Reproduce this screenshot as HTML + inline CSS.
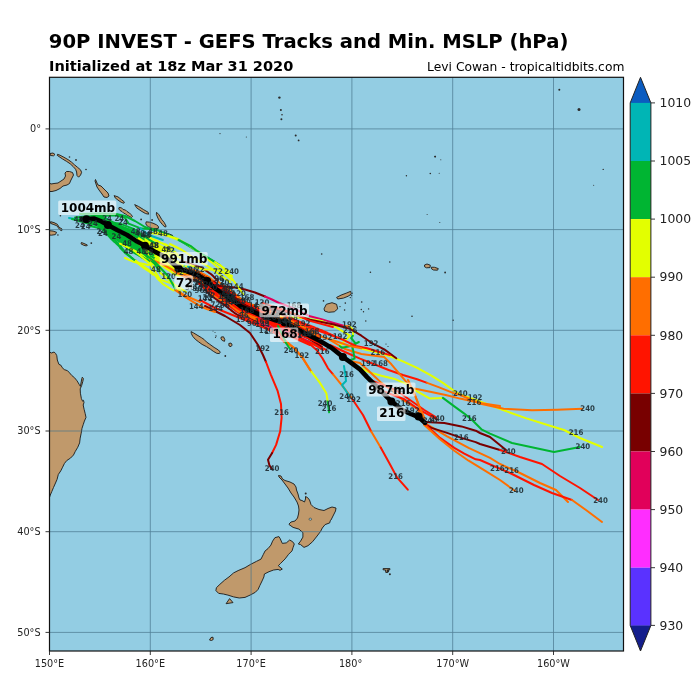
<!DOCTYPE html>
<html><head><meta charset="utf-8">
<style>
html,body{margin:0;padding:0;background:#fff;}
svg{display:block;}
text{font-family:"DejaVu Sans","Liberation Sans",sans-serif;}
.tk{font-size:9.7px;fill:#222;}
.cb{font-size:12.4px;fill:#222;}
.sl text{font-family:"DejaVu Sans Condensed","DejaVu Sans",sans-serif;font-stretch:condensed;font-size:7.8px;font-weight:bold;fill:#1c2a30;fill-opacity:0.9;}
.bl{font-size:12px;font-weight:bold;fill:#000;}
</style></head><body>
<svg width="700" height="700" viewBox="0 0 700 700">
<rect width="700" height="700" fill="#fff"/>
<text x="48.8" y="47.9" style="font-size:19.6px;font-weight:bold" fill="#000">90P INVEST - GEFS Tracks and Min. MSLP (hPa)</text>
<text x="49.1" y="70.8" style="font-size:14.55px;font-weight:bold" fill="#000">Initialized at 18z Mar 31 2020</text>
<text x="624.4" y="71.3" text-anchor="end" style="font-size:12.3px" fill="#000">Levi Cowan - tropicaltidbits.com</text>
<!-- map -->
<rect x="49.5" y="77.3" width="574" height="573.7" fill="#93cde3"/>

<g id="land" fill="#c0996b" stroke="#1a1a1a" stroke-width="0.9" stroke-linejoin="round">
<polygon points="49.5,352.0 51.4,353.0 54.1,352.0 55.7,353.6 56.8,355.7 57.3,360.0 58.9,364.3 61.1,365.4 62.1,367.5 64.3,369.6 67.5,370.7 69.6,372.9 71.8,375.5 74.5,377.7 77.1,380.9 79.3,384.6 80.4,386.3 81.2,382.0 81.8,378.5 82.3,377.2 83.4,378.6 82.8,381.5 81.6,385.6 80.2,388.9 80.4,393.2 81.4,398.6 82.6,401.2 83.5,400.3 84.0,402.5 83.2,405.0 84.1,409.3 85.2,413.6 86.0,417.4 84.4,421.1 83.2,424.7 82.0,428.3 81.2,433.2 80.2,438.1 79.6,442.9 77.8,447.2 75.3,451.4 73.5,455.0 70.5,458.1 66.8,460.5 64.4,463.5 62.6,467.2 60.8,470.8 58.3,474.5 57.1,479.3 55.5,483.0 53.5,487.5 51.8,491.5 50.3,495.0 49.5,497.5"/>
<polygon points="49.5,183.0 51.0,184.0 54.0,183.5 58.0,183.0 61.0,181.0 64.0,179.0 65.5,176.0 65.0,173.0 66.5,171.5 69.5,171.5 72.5,172.5 73.5,175.0 72.0,178.0 70.5,181.0 69.5,183.5 67.0,185.0 63.0,186.0 60.0,188.5 56.0,190.5 52.0,191.5 49.5,191.5"/>
<polygon points="57.5,154.3 60.0,155.2 64.0,157.3 68.0,159.6 71.5,162.1 74.5,164.8 77.5,167.3 80.5,169.8 81.6,172.3 80.6,175.0 78.6,177.2 77.0,175.5 76.6,172.0 75.6,169.3 73.2,166.6 70.2,163.8 66.6,161.4 62.6,159.0 59.0,156.6 57.2,155.3"/>
<polygon points="95.5,179.5 97.0,183.0 98.0,185.0 101.0,186.0 104.0,189.0 108.0,193.0 109.0,196.0 107.0,197.5 104.0,197.0 102.0,194.0 99.0,190.0 97.0,187.0 96.0,184.0 95.0,181.0"/>
<polygon points="114.1,195.6 118.0,196.9 121.2,199.4 124.4,202.0 123.8,203.3 121.2,202.3 118.0,200.1 115.2,197.9"/>
<polygon points="134.7,204.6 138.6,206.5 143.7,209.7 148.2,212.3 148.6,214.2 145.6,213.6 141.1,211.0 136.6,207.8"/>
<polygon points="119.0,207.5 121.5,207.8 123.0,209.5 125.5,210.0 127.0,211.5 129.5,213.0 131.0,214.5 132.5,216.5 131.5,217.5 129.5,216.5 127.5,215.5 125.5,214.0 123.5,213.0 122.0,211.5 120.0,210.5 118.8,209.0"/>
<polygon points="156.6,212.3 159.1,214.9 161.7,219.4 164.3,222.6 166.2,226.4 164.9,227.1 162.4,224.5 159.8,221.3 157.9,218.1 156.3,214.2"/>
<polygon points="146.2,221.8 149.5,222.2 153.0,223.2 156.5,224.8 158.3,226.3 158.5,228.2 156.0,228.8 152.0,228.3 148.5,226.8 146.5,225.3 145.8,223.5"/>
<polygon points="163.0,233.5 168.1,233.5 172.6,235.4 172.0,236.7 166.9,236.1 163.5,235.0"/>
<polygon points="50.6,221.7 54.0,222.6 57.4,224.3 59.1,227.3 62.1,229.0 61.7,230.7 60.0,229.9 58.3,227.7 56.6,225.6 53.1,224.3 50.6,223.4"/>
<polygon points="49.5,230.7 53.1,231.1 56.6,232.3 55.3,234.6 51.4,235.2 49.5,235.0"/>
<polygon points="81.4,242.5 84.0,243.5 87.4,245.0 86.5,246.0 83.5,245.2 81.0,243.8"/>
<polygon points="50.0,153.5 53.0,153.0 55.0,154.5 53.5,155.8 50.5,155.5"/>
<polygon points="191.0,331.6 193.6,332.9 197.0,335.0 201.3,337.6 203.9,339.3 206.4,341.9 209.9,344.4 214.1,347.4 218.4,350.0 220.3,352.1 219.3,353.6 216.7,353.3 213.3,351.3 210.3,349.1 206.4,346.6 202.1,344.4 198.7,341.9 195.3,339.3 192.7,336.3 191.4,333.7"/>
<polygon points="221.2,337.0 223.5,336.8 224.8,339.5 224.5,341.3 222.3,340.5 221.0,338.8"/>
<polygon points="228.8,343.5 231.0,343.0 232.2,345.0 231.0,346.6 229.0,346.0"/>
<polygon points="324.0,308.9 326.3,304.3 332.0,302.7 336.6,304.3 337.7,308.9 334.3,311.8 328.6,312.3 324.7,311.1"/>
<polygon points="336.6,297.4 341.1,295.1 346.9,292.9 350.7,291.3 351.4,294.0 348.0,296.3 343.4,298.1 337.7,299.0"/>
<polygon points="424.5,265.0 427.0,264.0 430.3,265.2 430.0,267.6 426.5,267.8 424.6,266.8"/>
<polygon points="431.4,267.2 434.5,267.3 438.3,268.6 437.5,270.2 433.5,270.0 431.5,268.8"/>
<polygon points="278.5,475.5 281.0,476.0 282.5,479.0 285.0,480.5 290.0,482.0 294.0,484.0 296.0,487.0 296.5,490.0 298.0,494.0 299.0,498.0 300.0,500.0 302.0,500.5 304.5,502.0 305.5,499.0 305.5,496.5 307.5,497.5 309.5,500.0 311.0,504.5 314.0,507.5 319.0,509.5 324.0,510.5 328.0,508.5 332.0,507.0 336.0,508.0 335.5,511.0 333.0,516.0 331.0,520.0 330.3,520.6 329.7,522.9 325.1,524.6 322.3,528.0 320.6,531.4 317.1,536.0 312.6,541.7 308.0,545.7 304.0,547.4 300.6,544.6 298.3,544.0 300.6,541.1 302.9,537.1 302.9,532.6 298.9,529.1 293.1,527.4 289.1,524.6 289.0,524.0 291.0,522.0 295.0,521.0 297.5,518.0 298.5,514.0 299.0,510.0 298.5,506.0 297.0,502.0 294.0,497.0 291.0,493.0 288.0,488.0 285.0,484.0 282.0,480.0 279.0,477.0"/>
<polygon points="278.9,536.6 280.0,538.3 282.3,543.4 286.3,542.9 289.7,540.0 292.6,541.7 294.3,544.0 293.1,547.4 292.0,550.9 288.6,554.3 285.1,558.9 280.6,563.4 278.3,565.7 282.3,569.1 280.0,570.3 278.1,569.4 273.6,570.0 269.0,571.7 264.4,574.0 263.9,576.9 262.1,580.9 259.9,585.4 258.1,589.4 255.3,592.3 250.1,595.1 245.0,597.4 239.3,598.0 233.6,596.9 227.9,595.1 223.3,594.0 218.7,593.4 215.9,590.6 216.4,587.7 219.9,584.3 224.4,580.3 229.0,576.9 233.6,572.9 238.1,570.6 245.0,567.7 250.7,564.3 256.4,561.4 261.0,559.1 263.4,554.3 265.1,550.9 268.0,548.6 270.9,545.1 272.6,541.1 274.9,537.7"/>
<polygon points="226.1,603.7 229.6,598.6 233.0,602.6"/>
<polygon points="383.1,568.6 389.9,568.6 389.9,569.8 387.8,570.0 388.0,572.3 385.8,572.5 385.5,570.0 383.1,569.8"/>
<polygon points="209.5,640.0 211.0,637.5 213.0,637.2 213.2,639.5 211.5,640.5"/>
<ellipse cx="310.3" cy="519.2" rx="1.3" ry="1.1" fill="#93cde3" stroke="#1a1a1a" stroke-width="0.5"/>
<circle cx="279.4" cy="97.6" r="1.2" fill="#2a2a2a" stroke="none"/>
<circle cx="280.9" cy="109.9" r="1.0" fill="#2a2a2a" stroke="none"/>
<circle cx="282" cy="114.7" r="0.8" fill="#2a2a2a" stroke="none"/>
<circle cx="281.4" cy="119.3" r="1.0" fill="#2a2a2a" stroke="none"/>
<circle cx="295.7" cy="135.6" r="1.0" fill="#2a2a2a" stroke="none"/>
<circle cx="298.6" cy="140.4" r="0.9" fill="#2a2a2a" stroke="none"/>
<circle cx="220" cy="133.6" r="0.6" fill="#2a2a2a" stroke="none"/>
<circle cx="246.3" cy="137" r="0.5" fill="#2a2a2a" stroke="none"/>
<circle cx="559.3" cy="89.7" r="1.0" fill="#2a2a2a" stroke="none"/>
<circle cx="579" cy="109.5" r="1.5" fill="#2a2a2a" stroke="none"/>
<circle cx="435" cy="156.6" r="0.9" fill="#2a2a2a" stroke="none"/>
<circle cx="440.8" cy="159.8" r="0.5" fill="#2a2a2a" stroke="none"/>
<circle cx="430.3" cy="173.5" r="0.8" fill="#2a2a2a" stroke="none"/>
<circle cx="439.2" cy="173.2" r="0.5" fill="#2a2a2a" stroke="none"/>
<circle cx="406.4" cy="175.8" r="0.7" fill="#2a2a2a" stroke="none"/>
<circle cx="427.1" cy="214.6" r="0.5" fill="#2a2a2a" stroke="none"/>
<circle cx="439.8" cy="222.6" r="0.5" fill="#2a2a2a" stroke="none"/>
<circle cx="603.2" cy="169.4" r="0.7" fill="#2a2a2a" stroke="none"/>
<circle cx="593.7" cy="185.3" r="0.5" fill="#2a2a2a" stroke="none"/>
<circle cx="321.7" cy="254" r="0.8" fill="#2a2a2a" stroke="none"/>
<circle cx="389.8" cy="262" r="0.8" fill="#2a2a2a" stroke="none"/>
<circle cx="370.4" cy="272.3" r="0.8" fill="#2a2a2a" stroke="none"/>
<circle cx="323.5" cy="300.9" r="0.8" fill="#2a2a2a" stroke="none"/>
<circle cx="345.3" cy="303.1" r="0.8" fill="#2a2a2a" stroke="none"/>
<circle cx="344.6" cy="310" r="0.8" fill="#2a2a2a" stroke="none"/>
<circle cx="340" cy="306.6" r="0.7" fill="#2a2a2a" stroke="none"/>
<circle cx="361.7" cy="302" r="0.8" fill="#2a2a2a" stroke="none"/>
<circle cx="361.3" cy="309.5" r="0.7" fill="#2a2a2a" stroke="none"/>
<circle cx="363.5" cy="311.8" r="0.7" fill="#2a2a2a" stroke="none"/>
<circle cx="368.6" cy="308.9" r="0.7" fill="#2a2a2a" stroke="none"/>
<circle cx="365.8" cy="321" r="0.7" fill="#2a2a2a" stroke="none"/>
<circle cx="412" cy="316.2" r="0.8" fill="#2a2a2a" stroke="none"/>
<circle cx="453.1" cy="320.3" r="0.8" fill="#2a2a2a" stroke="none"/>
<circle cx="445.1" cy="272.5" r="0.9" fill="#2a2a2a" stroke="none"/>
<circle cx="225.3" cy="356" r="0.9" fill="#2a2a2a" stroke="none"/>
<circle cx="60.4" cy="215.7" r="0.8" fill="#2a2a2a" stroke="none"/>
<circle cx="57.9" cy="235" r="0.8" fill="#2a2a2a" stroke="none"/>
<circle cx="91.3" cy="243.1" r="0.9" fill="#2a2a2a" stroke="none"/>
<circle cx="69.5" cy="157" r="0.8" fill="#2a2a2a" stroke="none"/>
<circle cx="76" cy="160" r="0.9" fill="#2a2a2a" stroke="none"/>
<circle cx="86" cy="169.5" r="0.8" fill="#2a2a2a" stroke="none"/>
<circle cx="141.1" cy="219.4" r="0.9" fill="#2a2a2a" stroke="none"/>
<circle cx="152.1" cy="220" r="0.9" fill="#2a2a2a" stroke="none"/>
<circle cx="387.9" cy="570.9" r="1.3" fill="#2a2a2a" stroke="none"/>
<circle cx="389.9" cy="574.3" r="1.0" fill="#2a2a2a" stroke="none"/>
<circle cx="305.7" cy="493.5" r="1.0" fill="#2a2a2a" stroke="none"/>
<circle cx="435.3" cy="156.6" r="0.8" fill="#2a2a2a" stroke="none"/>
<circle cx="386" cy="344" r="0.6" fill="#2a2a2a" stroke="none"/>
<circle cx="388" cy="346.5" r="0.6" fill="#2a2a2a" stroke="none"/>
<circle cx="213" cy="331" r="0.5" fill="#2a2a2a" stroke="none"/>
<circle cx="215" cy="332.5" r="0.5" fill="#2a2a2a" stroke="none"/>
<circle cx="216" cy="336" r="0.7" fill="#2a2a2a" stroke="none"/>
<circle cx="215.5" cy="337.5" r="0.6" fill="#2a2a2a" stroke="none"/>
<circle cx="351.5" cy="295.5" r="0.8" fill="#2a2a2a" stroke="none"/>
<circle cx="350.3" cy="297.6" r="0.7" fill="#2a2a2a" stroke="none"/>
<circle cx="352.2" cy="293.2" r="0.7" fill="#2a2a2a" stroke="none"/>
</g>
<g id="grid" stroke="#46748a" stroke-width="0.8" opacity="0.85">
<line x1="150.3" y1="77.3" x2="150.3" y2="651"/>
<line x1="251.1" y1="77.3" x2="251.1" y2="651"/>
<line x1="351.9" y1="77.3" x2="351.9" y2="651"/>
<line x1="452.7" y1="77.3" x2="452.7" y2="651"/>
<line x1="553.5" y1="77.3" x2="553.5" y2="651"/>
<line x1="49.5" y1="128.9" x2="623.5" y2="128.9"/>
<line x1="49.5" y1="229.6" x2="623.5" y2="229.6"/>
<line x1="49.5" y1="330.3" x2="623.5" y2="330.3"/>
<line x1="49.5" y1="431" x2="623.5" y2="431"/>
<line x1="49.5" y1="531.7" x2="623.5" y2="531.7"/>
<line x1="49.5" y1="632.4" x2="623.5" y2="632.4"/>
</g>
<g id="tracks" fill="none" stroke-width="2" stroke-linecap="round" stroke-linejoin="round">
<polyline points="191.3,269.2 192.5,269.7 193.8,270.3 195.0,270.8 196.3,271.3 197.6,271.8 198.8,272.3 200.6,273.4 201.7,274.1 202.8,274.9 203.9,275.7 205.0,276.5 206.1,277.3 207.1,278.1 208.2,278.9 209.5,280.2 210.4,281.2 211.3,282.2 212.3,283.2" stroke="#ff6e00"/>
<polyline points="212.3,283.2 213.2,284.2 214.1,285.2 215.0,286.2 215.8,286.9 216.9,287.7 217.9,288.5 219.0,289.3 220.1,290.1 221.2,290.9 222.3,291.7 223.4,292.5 224.5,293.3 225.6,294.0 226.7,294.8 227.8,295.5 229.0,296.2 230.1,296.9 231.3,297.8 232.4,298.7 233.4,299.5 234.5,300.4 235.5,301.2 236.6,302.0 237.6,302.9 238.7,303.7 239.8,304.5 240.8,305.3 241.8,306.0 243.0,306.5 244.3,307.0 245.5,307.6 246.8,308.1 248.0,308.6 249.3,309.1 250.5,309.6 251.8,310.1 253.0,310.6 254.3,311.1 255.5,311.6 256.8,312.1 258.1,312.6 259.3,313.1 260.5,313.5" stroke="#780000"/>
<polyline points="260.5,313.5 261.8,313.9 263.1,314.3 264.4,314.6 265.7,315.0 267.0,315.4 268.3,315.8 269.6,316.1 270.9,316.5 272.2,316.9 273.5,317.2 274.8,317.6 276.1,318.0 277.2,318.1 278.6,318.4 279.9,318.6 281.3,318.8 282.6,319.0 283.9,319.3 285.3,319.5 287.3,320.3 288.5,320.8 289.7,321.4 291.0,321.9 292.2,322.5 293.5,323.0 294.7,323.6 296.0,324.1 297.2,324.7 298.4,325.2 299.5,325.7 300.8,326.1 302.1,326.6 303.3,327.1 304.6,327.7 305.8,328.2 307.1,328.7 308.4,329.2" stroke="#ff6e00"/>
<polyline points="182.1,260.5 183.1,261.4 181.5,260.7 182.7,261.1 184.0,261.6 185.3,262.0 186.6,262.4 187.9,262.9 189.1,263.4 190.4,263.8 191.5,264.2 192.8,264.6 194.1,265.1 195.4,265.5 196.6,266.0 197.9,266.4 199.2,266.9 200.4,267.3 203.4,268.9 204.5,269.7 205.6,270.5 206.7,271.2 207.9,272.0 209.0,272.8 210.1,273.5 211.2,274.3 213.4,276.3 214.3,277.3 215.2,278.3 216.2,279.3" stroke="#780000"/>
<polyline points="216.2,279.3 217.1,280.3 218.0,281.3" stroke="#ff1400"/>
<polyline points="218.0,281.3 218.9,282.2 218.9,282.2 220.0,283.0 221.1,283.8 222.2,284.7 223.2,285.5 224.3,286.3 225.4,287.1 226.5,287.9 227.6,288.7 228.4,289.3 229.5,290.0 230.7,290.8 231.8,291.5 232.9,292.2 234.6,293.5 235.7,294.4 236.7,295.3 237.7,296.1 238.8,297.0 239.8,297.9 240.9,298.7 241.9,299.6 242.9,300.4 244.0,301.3 243.8,301.3 245.0,301.9 246.3,302.5 247.5,303.0 248.7,303.6 250.0,304.2 251.2,304.7 252.4,305.3 253.7,305.8 254.9,306.4 256.1,306.9 257.4,307.4 258.6,308.0 259.9,308.5 261.1,309.0 262.0,309.4" stroke="#ff6e00"/>
<polyline points="262.0,309.4 263.3,309.8 264.5,310.2 265.8,310.7 267.1,311.1 268.4,311.5 269.7,311.9 271.0,312.3 272.3,312.7 273.6,313.1 274.8,313.5 276.1,313.9 277.4,314.3 278.2,314.4 279.5,314.7 280.8,314.9 282.2,315.2 283.5,315.4 284.8,315.7 286.2,315.9 289.0,317.1 290.3,317.6 291.5,318.2 292.7,318.7 294.0,319.3 295.2,319.8 296.4,320.4 297.7,320.9 298.9,321.5 300.2,322.0 301.1,322.4 302.4,322.9 303.7,323.4 304.9,323.9 306.2,324.4 307.5,324.8 308.7,325.3 310.0,325.8 311.3,326.3 312.6,326.8 313.9,327.3 315.2,327.8 316.4,328.3 317.7,328.8 319.0,329.3 320.2,329.8 321.5,330.3 322.8,330.8 324.0,331.3 325.9,332.1 327.1,332.7 328.3,333.3 329.6,333.9 330.8,334.5 332.0,335.0 333.2,335.6 334.5,336.2 335.7,336.8" stroke="#ff1400"/>
<polyline points="170.5,267.7 171.4,268.7 172.4,269.6" stroke="#e3ff00"/>
<polyline points="172.4,269.6 173.3,270.6 174.3,271.5 177.0,273.4 178.2,273.9 179.5,274.4 180.7,275.0 182.0,275.5 183.3,276.0 184.5,276.5 185.8,276.9 187.1,277.4 188.4,277.9 189.7,278.4 191.0,278.8 192.2,279.3 193.5,279.7 194.8,280.2 196.1,280.6 195.9,280.7 197.0,281.4 198.2,282.2 199.3,282.9 200.5,283.6 201.6,284.3 202.8,285.0 203.9,285.7 203.9,285.9 204.9,286.8 205.9,287.8 206.9,288.7" stroke="#ff6e00"/>
<polyline points="206.9,288.7 207.9,289.6 208.9,290.5 209.8,291.5 211.8,292.9 212.9,293.6 214.1,294.3 215.2,295.0 216.4,295.7 217.5,296.4 218.7,297.1 219.8,297.8 221.0,298.5 222.4,299.3 223.6,300.0 224.8,300.6 226.0,301.2 227.2,301.9 227.9,302.3 229.0,303.0 230.1,303.8 231.2,304.6 232.3,305.3 233.4,306.1 234.6,306.8 235.7,307.6 236.8,308.4 237.9,309.1 239.9,310.3 241.2,310.8 242.4,311.2 243.7,311.7 245.0,312.2 246.3,312.6 247.5,313.1 248.8,313.6 250.1,314.0 251.3,314.5 252.6,315.0" stroke="#ff1400"/>
<polyline points="252.6,315.0 253.9,315.5 255.1,315.9 256.4,316.4 257.7,316.9 259.1,317.4 260.4,317.8 261.7,318.2 263.0,318.6 264.3,319.0 265.6,319.4 266.9,319.8 268.1,320.3 269.4,320.7 270.7,321.1 272.0,321.5 273.3,321.9 274.6,322.4 276.1,322.8 277.4,323.1 278.7,323.4 280.0,323.7 281.3,324.0 282.7,324.3 284.0,324.7 284.7,325.1 285.8,325.8 287.0,326.4 288.2,327.1 289.4,327.7 290.5,328.4 291.7,329.1 292.9,329.8 294.1,330.4 295.2,331.1 296.5,331.8 297.7,332.5 298.9,333.1 300.0,333.8 301.2,334.4 302.4,335.1 303.6,335.7 304.8,336.4 305.9,337.1" stroke="#780000"/>
<polyline points="169.1,263.1 170.1,264.1 171.1,265.0 172.0,265.9 173.0,266.9 174.0,267.8 175.0,268.7 176.0,269.6 177.8,271.0 179.1,271.5 180.4,272.0 181.6,272.4 182.9,272.9 184.2,273.4 185.4,273.8 186.7,274.3 188.0,274.7 189.3,275.2 190.6,275.6 191.9,276.0 193.2,276.4 194.5,276.8 195.8,277.2 197.0,277.6 197.6,278.0 198.8,278.7 199.9,279.4 201.1,280.1 202.2,280.8 203.4,281.5 204.6,282.2 205.7,282.9 206.3,283.5 207.3,284.4 208.3,285.3 209.4,286.2" stroke="#e3ff00"/>
<polyline points="209.4,286.2 210.4,287.1 211.4,288.0 212.4,288.9 213.8,289.8 215.0,290.5 216.1,291.2 217.3,291.9 218.5,292.6 219.6,293.3 220.8,294.0 222.0,294.6 223.2,295.3 224.4,296.0 225.6,296.6 226.8,297.2 228.0,297.8 229.2,298.4 230.3,299.1" stroke="#ff6e00"/>
<polyline points="230.3,299.1 231.5,299.8 232.6,300.6 233.7,301.3 234.8,302.1 236.0,302.8 237.1,303.6 238.2,304.3 239.4,305.1 240.5,305.8 241.6,306.5 242.9,306.9 244.1,307.4 245.4,307.8 246.7,308.3 248.0,308.7 249.2,309.2 250.5,309.7 251.8,310.1 253.0,310.6 254.3,311.1 255.6,311.5 256.8,312.0 258.1,312.5 259.4,313.0 260.6,313.4 261.9,313.8 263.1,314.2 264.4,314.6 265.7,315.0 267.0,315.4 268.3,315.8 269.6,316.2 270.9,316.6 272.2,317.0 273.4,317.5 274.7,317.9 276.0,318.3 277.1,318.6 278.4,318.9 279.8,319.2 281.1,319.5 282.4,319.9 283.7,320.2 285.0,320.5 286.7,321.4 287.9,322.0 289.0,322.7 290.2,323.3 291.4,324.0 292.6,324.7 293.7,325.4 294.9,326.0 296.1,326.7 297.2,327.4 298.4,328.0" stroke="#ff1400"/>
<polyline points="298.4,328.0 299.5,328.7 300.7,329.3 301.9,330.0 303.1,330.6 304.3,331.3 305.5,332.0 306.6,332.6 307.8,333.3 309.0,334.0 310.2,334.6 311.3,335.3 312.5,336.0 313.7,336.7 314.8,337.4" stroke="#780000"/>
<polyline points="185.0,270.9 186.3,271.2 187.7,271.6 189.0,271.9 190.3,272.3 191.6,272.6 192.9,272.9 194.2,273.2 195.5,273.6 196.9,273.9 198.2,274.2 199.6,274.9 200.8,275.6 202.0,276.2 203.2,276.8 204.4,277.5 205.6,278.1 206.8,278.7 208.0,279.4 209.3,280.5 210.3,281.3 211.4,282.2 212.4,283.1" stroke="#ff6e00"/>
<polyline points="212.4,283.1 213.4,284.0 214.5,284.9 215.5,285.7 216.3,286.2 217.4,286.8 218.6,287.5 219.8,288.2 221.0,288.9 222.1,289.6 223.3,290.3 224.5,290.9 225.6,291.6 226.7,292.2 227.9,292.8 229.0,293.5 230.2,294.1 231.4,294.8 232.9,295.7 234.0,296.5 235.1,297.3 236.2,298.1 237.3,298.9 238.4,299.7 239.5,300.5 240.6,301.3 241.6,302.1 242.7,302.9 243.0,303.2 244.3,303.7 245.5,304.2 246.7,304.8 248.0,305.3 249.2,305.9 250.5,306.4" stroke="#ff1400"/>
<polyline points="250.5,306.4 251.7,307.0 252.9,307.5 254.1,308.1 255.4,308.6 256.6,309.2 257.8,309.8 259.1,310.3 260.3,310.9 261.3,311.4 262.5,311.9 263.8,312.4 265.0,312.9 266.3,313.4 267.6,313.9 268.8,314.4 270.1,314.9 271.3,315.4 272.6,315.9 273.8,316.5 275.1,317.0 276.3,317.5 277.3,317.8 278.6,318.2 279.9,318.6 281.2,319.1 282.5,319.5 283.8,319.9 285.1,320.3 286.8,321.2 287.9,321.9 289.1,322.7 290.2,323.4 291.3,324.1 292.5,324.8 293.6,325.6 294.8,326.3 295.9,327.0 297.1,327.8 298.2,328.4 299.3,329.1 300.5,329.8 301.7,330.5 302.8,331.2 304.0,331.8 305.2,332.5 306.4,333.2 307.5,333.9 308.7,334.5 309.9,335.2 311.0,335.9 312.2,336.6" stroke="#780000"/>
<polyline points="196.9,278.1 197.3,278.5 198.4,279.4 199.4,280.2 200.5,281.0 201.6,281.8 202.7,282.6 203.8,283.5 204.8,284.3 205.1,284.8 206.0,285.8 206.8,286.8 207.7,287.8" stroke="#ff6e00"/>
<polyline points="207.7,287.8 208.6,288.8 209.5,289.9 210.4,290.9 212.1,292.3 213.2,293.1 214.3,294.0 215.4,294.8 216.4,295.6 217.5,296.4 218.6,297.2 219.7,298.1 220.8,298.9 222.1,299.8 223.3,300.5" stroke="#ff1400"/>
<polyline points="223.3,300.5 224.4,301.3 225.5,302.0 226.7,302.8 227.1,303.2 228.2,304.0 229.2,304.9 230.3,305.8 231.3,306.6 232.4,307.5 233.4,308.3 234.5,309.1 235.5,310.0 236.6,310.8 239.0,312.3 240.2,312.9 241.5,313.4 242.7,314.0 244.0,314.5 245.2,315.0 246.5,315.5 247.7,316.1 249.0,316.6 250.2,317.1 251.4,317.6 252.7,318.1 254.0,318.6 255.2,319.1 256.5,319.6 258.1,320.2 259.4,320.6 260.7,321.1 262.0,321.5 263.3,321.9 264.6,322.2 265.9,322.6 267.2,323.0 268.5,323.4 269.8,323.8 271.1,324.2 272.3,324.6 273.6,325.0 275.4,325.4 276.8,325.6 278.1,325.9 279.4,326.1 280.8,326.4 282.1,326.6 283.4,326.8 283.6,327.0 284.8,327.6 286.1,328.1 287.3,328.7 288.5,329.3 289.8,329.9 291.0,330.4" stroke="#780000"/>
<polyline points="291.0,330.4 292.2,331.0 293.4,331.6" stroke="#ff6e00"/>
<polyline points="175.4,266.1 176.5,267.0 177.5,267.8 178.7,268.7 179.9,269.1 181.2,269.5 182.5,269.9 183.8,270.4 185.1,270.8 186.4,271.2 187.6,271.6 188.9,272.1 190.2,272.5 191.5,272.9 192.8,273.3 194.1,273.7 195.3,274.2 196.6,274.6 197.9,275.0 199.1,275.7 200.2,276.5 201.3,277.2 202.4,278.0 203.6,278.7 204.7,279.5 205.8,280.3 206.9,281.0 207.8,282.0 208.7,283.0 209.7,283.9 210.6,284.9" stroke="#780000"/>
<polyline points="210.6,284.9 211.5,285.9 212.4,286.9 213.3,287.9 214.5,288.9 215.6,289.7 216.6,290.5 217.7,291.3 218.8,292.1 219.9,293.0 220.9,293.8 222.0,294.6 223.1,295.4 224.2,296.3 225.3,297.1" stroke="#ff1400"/>
<polyline points="225.3,297.1 226.4,297.8 227.5,298.6 228.7,299.4 229.5,300.1 230.5,301.0 231.5,302.0 232.5,302.9 233.5,303.8 234.5,304.7 235.5,305.6 236.5,306.5 237.5,307.5 238.5,308.4 240.2,309.6 241.4,310.2 242.6,310.9 243.8,311.5 245.0,312.2 246.2,312.8 247.4,313.5 248.6,314.1 249.8,314.7 251.0,315.4 252.2,316.0 253.3,316.7 254.5,317.3 255.7,317.9 256.9,318.5 258.5,319.3" stroke="#ff6e00"/>
<polyline points="258.5,319.3 259.7,319.8 261.0,320.3 262.2,320.9 263.4,321.4 264.7,321.9 265.9,322.5 267.2,323.0 268.4,323.5 269.7,324.0 270.9,324.5 272.2,325.0 273.4,325.5 275.3,326.1 276.6,326.5 277.9,326.8 279.2,327.2 280.5,327.6 281.8,327.9 283.1,328.3 282.9,328.4 284.0,329.1 285.2,329.7 286.4,330.4 287.6,331.0 288.8,331.7 289.9,332.3 291.1,333.0 292.3,333.6 293.5,334.3 294.9,335.0 296.1,335.6 297.4,336.2 298.6,336.7 299.8,337.3 301.0,337.9 302.2,338.4 303.5,339.0 304.7,339.6 305.9,340.1 307.1,340.7 308.3,341.2 309.6,341.8 310.8,342.4 312.0,342.9 313.3,343.5 314.5,344.0 315.7,344.6 317.0,345.1 317.9,345.6 319.1,346.2 320.3,346.8 321.5,347.4 322.7,348.1 323.9,348.7 325.1,349.3 326.3,349.9" stroke="#ff1400"/>
<polyline points="180.7,271.0 182.0,271.5 183.2,272.1 184.4,272.6 185.7,273.1 186.9,273.7 188.2,274.2 189.5,274.7 190.7,275.2 192.0,275.7 193.2,276.2 194.5,276.7 195.8,277.2 197.0,277.7 197.5,278.2 198.6,279.0 199.7,279.8 200.8,280.6 201.9,281.3 203.0,282.1 204.1,282.9 205.2,283.7 205.6,284.2 206.6,285.2 207.5,286.1 208.4,287.1" stroke="#e3ff00"/>
<polyline points="208.4,287.1 209.4,288.1 210.3,289.1 211.2,290.0 212.8,291.3 214.0,292.0 215.1,292.8 216.2,293.6 217.3,294.3 218.4,295.1 219.6,295.8 220.7,296.6 221.8,297.3 223.1,298.1 224.3,298.8 225.5,299.5 226.6,300.2 227.8,300.8 228.6,301.3 229.7,302.1 230.8,302.9" stroke="#ff6e00"/>
<polyline points="230.8,302.9 231.8,303.7 232.9,304.5 234.0,305.3 235.1,306.1 236.2,306.9 237.4,307.7 238.5,308.4 240.3,309.5 241.5,310.0 242.8,310.5 244.1,310.9 245.3,311.4 246.6,311.9 247.9,312.3 249.1,312.8 250.4,313.3 251.7,313.7 252.9,314.2 254.2,314.7 255.5,315.1 256.8,315.6 258.0,316.0 259.5,316.5 260.8,316.9 262.1,317.2 263.4,317.6 264.7,317.9 266.0,318.3 267.3,318.7 268.6,319.0 269.9,319.4 271.2,319.8 272.5,320.1 273.8,320.5 275.1,320.9 276.5,321.1 277.8,321.4 279.2,321.6 280.5,321.9 281.8,322.1 283.1,322.4 284.5,322.6 285.7,323.2 286.9,323.8 288.1,324.3" stroke="#ff1400"/>
<polyline points="199.5,280.1 200.6,280.8 201.8,281.5 203.0,282.2 204.1,282.9 205.3,283.6 205.8,284.0 206.8,285.0 207.8,285.9 208.8,286.8" stroke="#ff6e00"/>
<polyline points="208.8,286.8 209.8,287.7 210.8,288.6 211.8,289.5 213.3,290.5 214.5,291.2 215.7,291.9 216.8,292.6 218.0,293.3 219.2,294.0 220.4,294.6 221.5,295.3 222.7,296.0 224.0,296.7 225.2,297.3 226.4,297.9 227.6,298.5 228.8,299.1 229.8,299.7 230.9,300.5 232.1,301.2 233.2,302.0 234.3,302.8 235.4,303.5 236.6,304.3 237.7,305.0 238.8,305.8 239.9,306.5 241.2,307.3 242.5,307.7 243.8,308.2 245.0,308.7 246.3,309.1 247.6,309.6 248.9,310.1 250.1,310.5 251.4,311.0 252.7,311.5 253.9,312.0 255.2,312.4 256.4,312.9 257.7,313.4 259.0,313.9 260.2,314.3 261.5,314.7 262.8,315.2 264.1,315.6 265.4,316.0 266.7,316.4 267.9,316.8 269.2,317.2 270.5,317.7 271.8,318.1" stroke="#780000"/>
<polyline points="271.8,318.1 273.1,318.5 274.3,319.0 275.6,319.4 276.8,319.7 278.2,320.1 279.5,320.4 280.8,320.7 282.1,321.0 283.4,321.4 284.7,321.7 286.1,322.5 287.3,323.1 288.4,323.8 289.6,324.5 290.8,325.1 291.9,325.8 293.1,326.5 294.3,327.2 295.4,327.9 296.6,328.6 297.8,329.2 298.9,329.9 300.1,330.6 301.3,331.2 302.5,331.9 303.7,332.6 304.8,333.2 306.0,333.9 307.2,334.6 308.4,335.2 309.5,335.9 310.7,336.6 311.8,337.3 313.0,338.0 314.2,338.7 315.3,339.4 316.5,340.1 317.6,340.8 318.8,341.5 319.9,342.2 321.0,343.0" stroke="#ff6e00"/>
<polyline points="201.8,278.9 203.0,279.6 204.2,280.2 205.4,280.9 206.6,281.5 207.5,282.3 208.5,283.2 209.5,284.1 210.6,285.0" stroke="#e3ff00"/>
<polyline points="210.6,285.0 211.6,285.8 212.6,286.7 213.6,287.6 214.8,288.4 216.0,289.1 217.1,289.7 218.3,290.4 219.5,291.1 220.6,291.8 221.8,292.5 222.9,293.2 224.1,293.9 225.2,294.6 226.4,295.2 227.6,295.8 228.8,296.5 230.0,297.1 231.2,297.9 232.3,298.7 233.4,299.5 234.5,300.3 235.6,301.1 236.6,302.0 237.7,302.8 238.8,303.6 239.9,304.4" stroke="#ff6e00"/>
<polyline points="239.9,304.4 241.0,305.2 241.9,305.8 243.1,306.4 244.3,306.9 245.6,307.5 246.8,308.0 248.0,308.6 249.3,309.1 250.5,309.7 251.7,310.2 253.0,310.8 254.2,311.4 255.4,312.0 256.6,312.5 257.8,313.1 259.1,313.7 260.3,314.2 261.5,314.7 262.8,315.2 264.0,315.8 265.3,316.3 266.5,316.8 267.8,317.3 269.0,317.8 270.3,318.4 271.5,318.9 272.8,319.4 274.0,320.0 275.2,320.5 276.5,320.9 277.8,321.3 279.1,321.8 280.4,322.2 281.7,322.6 283.0,323.0 284.3,323.4 285.2,324.1 286.3,324.8 287.5,325.5 288.6,326.3 289.8,327.0 290.9,327.8 292.0,328.5 293.2,329.2 294.3,330.0 295.4,330.7 296.7,331.5 297.8,332.2 299.0,332.9 300.1,333.6 301.3,334.3 302.5,334.9 303.6,335.6 304.8,336.3" stroke="#ff1400"/>
<polyline points="304.8,336.3 306.0,337.0 307.1,337.7 308.3,338.4 309.4,339.1 310.6,339.8 311.8,340.5 312.9,341.1 314.1,341.8 315.3,342.5 316.4,343.2 317.6,343.9 318.5,344.5 319.7,345.2 320.8,346.0 321.9,346.7" stroke="#780000"/>
<polyline points="188.0,274.9 189.3,275.3 190.6,275.6 191.9,276.0 193.2,276.3 194.5,276.7 195.8,277.0 197.1,277.3 197.8,277.7 199.0,278.4 200.2,279.0 201.4,279.7 202.6,280.3 203.7,281.0 204.9,281.6 206.1,282.3 206.9,282.9 207.9,283.8 208.9,284.7 210.0,285.6" stroke="#ff6e00"/>
<polyline points="210.0,285.6 211.0,286.5 212.0,287.3 213.0,288.2 214.3,289.1 215.5,289.8 216.7,290.4 217.8,291.1 219.0,291.8 220.2,292.5 221.3,293.2 222.5,293.9 223.7,294.6 224.9,295.2 226.0,295.9 227.2,296.5 228.4,297.1 229.6,297.8 230.8,298.5 231.9,299.3 233.0,300.1 234.1,300.9 235.2,301.7 236.2,302.5 237.3,303.3 238.4,304.1 239.5,304.9 240.6,305.7 241.6,306.3 242.9,306.9 244.1,307.4 245.4,307.9 246.6,308.5 247.8,309.0 249.1,309.5 250.3,310.1 251.6,310.6 252.8,311.2 254.0,311.8 255.2,312.3 256.5,312.9 257.7,313.4 258.9,314.0 260.1,314.5" stroke="#780000"/>
<polyline points="260.1,314.5 261.4,315.0 262.7,315.5 263.9,316.0 265.2,316.5 266.4,317.0 267.7,317.5 268.9,318.1 270.2,318.6 271.4,319.1 272.7,319.6 273.9,320.1 275.2,320.7 276.5,321.1 277.8,321.5 279.1,321.9 280.4,322.3 281.7,322.7 283.0,323.2 284.2,323.6" stroke="#ff6e00"/>
<polyline points="197.0,277.7 197.6,278.1 198.7,278.8 199.9,279.5 201.0,280.3 202.1,281.0 203.2,281.8 204.4,282.5 205.5,283.3 206.0,283.8 206.9,284.8 207.8,285.8 208.8,286.8" stroke="#ff1400"/>
<polyline points="208.8,286.8 209.7,287.8 210.6,288.7 211.5,289.7 213.1,291.0 214.1,291.8 215.2,292.6 216.3,293.4 217.4,294.2 218.5,295.0 219.5,295.8 220.6,296.7 221.7,297.5 223.0,298.4 224.1,299.2 225.2,299.9 226.3,300.7 227.4,301.5 228.0,302.1 229.0,303.0 230.0,303.9 231.0,304.8 232.0,305.7 233.0,306.7 234.0,307.6 235.0,308.5 236.0,309.4 237.0,310.3 239.2,311.9 240.4,312.6 241.6,313.2 242.8,313.9 244.0,314.5 245.1,315.2 246.3,315.8 247.5,316.5 248.7,317.2 249.9,317.8 251.1,318.5 252.3,319.1 253.5,319.8 254.6,320.4 255.8,321.1 257.5,321.9" stroke="#780000"/>
<polyline points="257.5,321.9 258.8,322.5 260.0,323.0 261.2,323.6 262.5,324.2 263.7,324.7 264.9,325.3 266.2,325.8 267.4,326.4 268.6,326.9 269.9,327.5 271.1,328.0" stroke="#ff6e00"/>
<polyline points="271.1,328.0 272.4,328.6 274.5,329.3 275.8,329.7 277.0,330.1 278.3,330.5 279.6,330.9 280.9,331.3 282.2,331.7 281.2,331.5 282.3,332.2 283.5,332.9 284.6,333.6 285.8,334.3 287.0,335.0 288.1,335.7" stroke="#e1005a"/>
<polyline points="170.7,261.3 171.7,262.2 172.8,263.0 173.9,263.8 174.9,264.7 176.0,265.5" stroke="#e3ff00"/>
<polyline points="176.0,265.5 177.1,266.3 178.2,267.1 179.0,267.8 180.3,268.1 181.6,268.5 182.9,268.8 184.2,269.2 185.5,269.5 186.8,269.9 188.1,270.2 189.4,270.5 190.7,270.9 192.1,271.2 193.4,271.5 194.7,271.8 196.0,272.1 197.3,272.5 198.7,272.8 200.4,273.6 201.6,274.3 202.8,274.9 204.0,275.5 205.2,276.2 206.4,276.8 207.6,277.4 208.8,278.0 210.4,279.3 211.4,280.2 212.5,281.1 213.5,282.0" stroke="#ff6e00"/>
<polyline points="213.5,282.0 214.6,282.8 215.6,283.7 216.6,284.6 217.2,284.8 218.3,285.5 219.5,286.2 220.7,286.8 221.9,287.5 223.0,288.2 224.2,288.9 225.4,289.6 226.5,290.3 227.5,290.8 228.7,291.4 229.9,292.0 231.1,292.7 232.3,293.3 233.9,294.4 235.0,295.2 236.1,296.0 237.2,296.8 238.3,297.6 239.4,298.4 240.5,299.2 241.6,300.0 242.7,300.8 243.8,301.6 243.7,301.6 245.0,302.1 246.2,302.7 247.4,303.2 248.7,303.7 249.9,304.3 251.1,304.8 252.4,305.4 253.6,305.9 254.8,306.5 256.1,307.0 257.3,307.6 258.5,308.2 259.8,308.7 261.0,309.3 261.9,309.7" stroke="#780000"/>
<polyline points="261.9,309.7 263.1,310.2 264.4,310.7 265.6,311.2 266.9,311.7 268.2,312.2 269.4,312.7 270.7,313.2 271.9,313.7 273.2,314.2 274.4,314.8 275.7,315.3 276.9,315.8 277.8,316.1 279.1,316.5 280.3,316.9 281.6,317.3 282.9,317.7 284.2,318.1 285.5,318.5 287.7,319.6 288.8,320.3 290.0,321.0 291.1,321.7 292.2,322.5 293.4,323.2 294.5,323.9 295.7,324.6 296.8,325.3 298.0,326.1 299.0,326.7 300.2,327.4 301.4,328.1 302.5,328.7 303.7,329.4 304.9,330.1 306.1,330.7 307.2,331.4" stroke="#ff6e00"/>
<polyline points="202.8,279.9 204.0,280.6 205.2,281.2 206.4,281.9 207.2,282.6 208.2,283.5 209.3,284.4 210.3,285.2" stroke="#ff6e00"/>
<polyline points="210.3,285.2 211.3,286.1 212.3,287.0 213.3,287.9 214.5,288.7 215.7,289.4 216.9,290.1 218.0,290.8 219.2,291.5 220.3,292.2 221.5,292.9 222.6,293.7 223.8,294.4 225.0,295.0 226.1,295.7 227.3,296.4 228.5,297.0 229.7,297.7 230.8,298.4 231.9,299.3 233.0,300.1 234.1,300.9 235.1,301.7 236.2,302.5 237.3,303.3 238.3,304.2 239.4,305.0 240.5,305.8 241.5,306.5 242.8,307.1 244.0,307.7 245.2,308.2 246.5,308.8 247.7,309.4 248.9,309.9 250.1,310.5 251.4,311.1 252.6,311.7 253.8,312.2 255.0,312.8 256.2,313.4 257.4,314.0 258.7,314.6 259.9,315.2 261.2,315.7 262.4,316.2 263.7,316.8 264.9,317.3 266.2,317.8 267.4,318.3" stroke="#780000"/>
<polyline points="267.4,318.3 268.6,318.9 269.9,319.4 271.1,320.0 272.4,320.5 273.6,321.0 274.8,321.6 276.3,322.1 277.5,322.5 278.8,322.9 280.1,323.3 281.4,323.8 282.7,324.2 284.0,324.6 284.6,325.2 285.8,325.9 286.9,326.6 288.0,327.4 289.2,328.1 290.3,328.9 291.4,329.6 292.6,330.4 293.7,331.1 294.8,331.8 296.1,332.6 297.3,333.3" stroke="#ff6e00"/>
<polyline points="169.5,260.6 170.5,261.5 171.5,262.4 172.5,263.4 173.4,264.3 174.4,265.3 175.4,266.2" stroke="#00b532"/>
<polyline points="175.4,266.2 176.3,267.2 177.3,268.1 178.5,269.1 179.8,269.6 181.0,270.1 182.3,270.6 183.5,271.1 184.8,271.6 186.0,272.1 187.3,272.6 188.6,273.1 189.9,273.6 191.1,274.0 192.4,274.5 193.7,274.9 194.9,275.4 196.2,275.8 197.5,276.2 198.4,276.8 199.5,277.6 200.6,278.3 201.8,279.0 202.9,279.7 204.1,280.5 205.2,281.2 206.4,281.9 207.1,282.6 208.1,283.6 209.1,284.5 210.1,285.4" stroke="#780000"/>
<polyline points="210.1,285.4 211.1,286.4 212.1,287.3 213.1,288.2 214.3,289.1 215.5,289.8 216.6,290.5 217.8,291.2 218.9,291.9 220.1,292.6 221.2,293.3 222.4,294.0 223.6,294.7 224.8,295.3 226.0,296.0 227.2,296.6 228.4,297.2 229.6,297.8 230.7,298.5 231.9,299.3 233.0,300.0 234.1,300.8 235.2,301.6 236.4,302.3 237.5,303.1" stroke="#ff1400"/>
<polyline points="237.5,303.1 238.6,303.8 239.8,304.5 240.9,305.3 241.9,305.8 243.1,306.3 244.4,306.7 245.7,307.2 247.0,307.6 248.3,308.0 249.5,308.5 250.8,308.9 252.1,309.4 253.4,309.8 254.7,310.3 255.9,310.7 257.2,311.2 258.5,311.6 259.8,312.1 260.9,312.4" stroke="#ff6e00"/>
<polyline points="260.9,312.4 262.2,312.8 263.5,313.1 264.8,313.5 266.1,313.9 267.4,314.2 268.7,314.6 270.0,315.0 271.3,315.4 272.6,315.7 273.9,316.1 275.2,316.5 276.5,316.9 277.5,317.1 278.8,317.3" stroke="#ff1400"/>
<polyline points="201.0,275.3 202.1,276.0 203.3,276.7 204.4,277.4 205.6,278.1 206.7,278.8 207.9,279.5 209.1,280.6 210.1,281.6 211.1,282.5 212.1,283.4" stroke="#ff6e00"/>
<polyline points="212.1,283.4 213.0,284.4 214.0,285.3 214.9,286.3 215.8,286.9 216.9,287.7 218.0,288.4" stroke="#ff1400"/>
<polyline points="218.0,288.4 219.1,289.2 220.2,290.0 221.3,290.8 222.4,291.5 223.5,292.3 224.6,293.1 225.7,293.8 226.8,294.5 228.0,295.3 229.1,296.0 230.2,296.8 231.4,297.7 232.4,298.6 233.5,299.4 234.5,300.3 235.5,301.2 236.5,302.1 237.5,303.0 238.6,303.9 239.6,304.8 240.6,305.7 241.6,306.4 242.8,307.1 244.0,307.7 245.2,308.3 246.4,309.0 247.6,309.6 248.8,310.2 250.0,310.8 251.2,311.5 252.4,312.1 253.6,312.8 254.8,313.4 256.0,314.0 257.2,314.7 258.4,315.3 259.7,315.9 260.9,316.5 262.1,317.0 263.4,317.6 264.6,318.1 265.8,318.7 267.1,319.2 268.3,319.8 269.6,320.3 270.8,320.9 272.0,321.4 273.3,321.9 274.5,322.5 276.0,323.0 277.3,323.4 278.6,323.8 279.9,324.2 281.2,324.6 282.5,325.0 283.8,325.4" stroke="#780000"/>
<polyline points="283.8,325.4 284.3,325.8" stroke="#ff6e00"/>
<polyline points="185.1,274.7 186.4,275.3 187.7,275.9 188.9,276.4 190.2,276.9 191.4,277.5 192.7,278.0 193.9,278.5 195.2,279.0 196.4,279.6 196.4,279.9 197.5,280.7 198.6,281.5 199.7,282.3 200.8,283.1 201.9,283.9 203.0,284.7 204.0,285.5 204.1,285.8 205.0,286.8 205.9,287.8 206.8,288.8" stroke="#e3ff00"/>
<polyline points="206.8,288.8 207.7,289.8 208.6,290.8 209.5,291.8 211.4,293.4 212.5,294.2 213.6,295.0 214.7,295.8 215.8,296.6 216.9,297.3 218.0,298.1 219.1,298.9 220.2,299.7 221.6,300.6 222.8,301.3 223.9,302.0 225.1,302.8" stroke="#ff6e00"/>
<polyline points="225.1,302.8 226.2,303.5 226.7,303.8 227.7,304.6 228.8,305.5 229.9,306.3 230.9,307.1 232.0,307.9 233.1,308.7 234.2,309.6 235.2,310.4 236.3,311.2 238.8,312.7 240.1,313.2 241.3,313.7 242.6,314.2 243.9,314.7 245.1,315.2 246.4,315.7 247.6,316.2 248.9,316.7 250.2,317.2 251.4,317.7 252.7,318.2 253.9,318.7 255.2,319.2 256.5,319.6 258.1,320.2 259.4,320.6 260.7,321.0 262.0,321.4 263.3,321.7 264.6,322.1 265.9,322.5 267.2,322.9 268.5,323.3 269.8,323.6 271.1,324.0 272.4,324.4 273.7,324.8 275.5,325.2 276.8,325.4 278.1,325.7 279.5,325.9 280.8,326.2 282.1,326.4 283.5,326.7 283.7,326.8 284.9,327.4 286.1,328.0 287.4,328.6 288.6,329.2 289.8,329.8 291.0,330.3 292.2,330.9 293.5,331.5" stroke="#ff1400"/>
<polyline points="293.5,331.5 294.7,332.1 296.0,332.8 297.2,333.3 298.5,333.9 299.7,334.4 300.9,335.0 302.2,335.6 303.4,336.1 304.6,336.7 305.9,337.3" stroke="#780000"/>
<polyline points="186.1,271.8 187.5,272.2 188.8,272.5 190.1,272.8 191.4,273.2 192.7,273.5" stroke="#e3ff00"/>
<polyline points="192.7,273.5 194.0,273.8 195.3,274.2 196.7,274.5 198.0,274.9 199.2,275.5 200.4,276.2 201.6,276.8 202.8,277.5 204.0,278.1 205.1,278.8 206.3,279.4 207.5,280.1 208.7,281.1 209.7,282.0 210.7,282.9 211.7,283.8" stroke="#ff6e00"/>
<polyline points="211.7,283.8 212.7,284.7 213.7,285.6 214.7,286.5 215.6,287.1 216.8,287.8 217.9,288.5 219.1,289.3 220.2,290.0 221.4,290.7 222.5,291.4 223.6,292.2 224.8,292.9 225.9,293.6 227.0,294.2 228.2,294.9 229.3,295.6 230.5,296.3 231.8,297.2 232.8,298.0 233.9,298.9 235.0,299.7 236.0,300.5 237.1,301.4 238.1,302.2 239.2,303.1 240.2,303.9 241.3,304.8 242.1,305.4 243.3,306.0 244.5,306.5 245.7,307.1 246.9,307.7 248.1,308.3 249.4,308.9 250.6,309.5 251.8,310.1 253.0,310.7 254.2,311.3 255.4,311.9 256.6,312.6 257.8,313.2 259.0,313.8 260.2,314.3" stroke="#ff1400"/>
<polyline points="260.2,314.3 261.5,314.9 262.7,315.4 263.9,316.0 265.2,316.5 266.4,317.0 267.7,317.6 268.9,318.1 270.1,318.7 271.4,319.2 272.6,319.8 273.9,320.3 275.1,320.9 276.4,321.3 277.7,321.8 279.0,322.2 280.3,322.6 281.6,323.1 282.9,323.5 284.2,323.9 285.0,324.5 286.1,325.2 287.3,326.0 288.4,326.7 289.5,327.4 290.7,328.1 291.8,328.9 293.0,329.6" stroke="#780000"/>
<polyline points="187.2,268.7 188.5,269.1 189.8,269.4 191.1,269.7 192.4,270.0 193.8,270.3 195.1,270.7 196.4,271.0 197.7,271.3 199.0,271.7 201.0,272.7 202.2,273.3 203.4,274.0 204.6,274.6 205.8,275.3 207.0,275.9 208.1,276.6 209.3,277.3 211.0,278.7 212.0,279.6 213.1,280.5 214.1,281.4" stroke="#ff6e00"/>
<polyline points="214.1,281.4 215.1,282.3 216.1,283.2 217.1,284.1 217.5,284.3 218.6,285.1 219.8,285.8 220.9,286.5 222.1,287.2 223.2,288.0 224.3,288.7 225.5,289.4 226.6,290.2 227.5,290.7 228.7,291.4 229.9,292.1 231.0,292.8 232.2,293.5 233.8,294.6 234.8,295.5 235.9,296.3 236.9,297.2 238.0,298.0 239.0,298.9 240.1,299.7 241.1,300.6 242.2,301.4 243.2,302.3 243.3,302.5 244.5,303.1 245.8,303.6 247.0,304.2 248.2,304.8 249.4,305.4 250.6,306.0 251.8,306.6 253.0,307.2 254.3,307.8 255.5,308.4 256.7,309.1 257.9,309.7 259.1,310.3 260.3,310.9 261.3,311.4 262.5,311.9 263.8,312.4" stroke="#780000"/>
<polyline points="263.8,312.4 265.0,313.0 266.3,313.5 267.5,314.0 268.7,314.6 270.0,315.1 271.2,315.6 272.5,316.2 273.7,316.7 275.0,317.3 276.2,317.8 277.2,318.1 278.5,318.6 279.8,319.0 281.1,319.4 282.4,319.8 283.7,320.2 285.0,320.6 286.6,321.5 287.8,322.2 288.9,322.9 290.1,323.6 291.2,324.3 292.4,325.0 293.5,325.7 294.7,326.4 295.9,327.1 297.0,327.8 298.1,328.5 299.3,329.1 300.5,329.8 301.7,330.4" stroke="#ff6e00"/>
<polyline points="190.9,270.3 192.2,270.6 193.6,271.0 194.9,271.3 196.2,271.7 197.5,272.0 198.8,272.4 200.6,273.3 201.8,274.0 202.9,274.7 204.1,275.4 205.3,276.0 206.5,276.7 207.6,277.4 208.8,278.1 210.3,279.4 211.3,280.3 212.3,281.3 213.3,282.2" stroke="#ff6e00"/>
<polyline points="213.3,282.2 214.3,283.1 215.2,284.1 216.2,285.0 216.8,285.4 217.9,286.1 219.1,286.9 220.2,287.6 221.3,288.4 222.4,289.1 223.5,289.9 224.6,290.7 225.8,291.4 226.7,292.1 227.9,292.8 229.0,293.5 230.2,294.2 231.3,294.9 232.7,296.0 233.8,296.8 234.8,297.7 235.8,298.6 236.9,299.4 237.9,300.3 238.9,301.2 240.0,302.1 241.0,303.0 242.0,303.8 242.5,304.3 243.7,304.9 244.9,305.5 246.1,306.1 247.4,306.7 248.6,307.4 249.8,308.0 251.0,308.6 252.2,309.2 253.4,309.9 254.6,310.5 255.8,311.1 257.0,311.7 258.2,312.4 259.4,313.0 260.5,313.5" stroke="#780000"/>
<polyline points="260.5,313.5 261.7,314.1 263.0,314.6 264.2,315.2 265.5,315.7 266.7,316.2 268.0,316.8 269.2,317.3 270.4,317.9 271.7,318.4 272.9,318.9 274.2,319.5 275.4,320.0 276.7,320.4 278.0,320.8 279.3,321.3 280.5,321.7 281.8,322.1 283.1,322.5 284.4,322.9 285.5,323.5 286.7,324.2 287.8,324.9 289.0,325.6 290.1,326.3 291.3,327.0 292.5,327.7 293.6,328.4 294.8,329.1 296.0,329.8 297.2,330.5 298.4,331.1 299.6,331.7 300.7,332.3 301.9,333.0 303.1,333.6 304.4,334.2 305.6,334.8 306.8,335.4" stroke="#ff6e00"/>
<polyline points="178.8,272.3 180.1,272.8 181.3,273.3 182.6,273.8 183.9,274.2" stroke="#e3ff00"/>
<polyline points="183.9,274.2 185.1,274.7 186.4,275.2 187.8,275.6 189.0,276.0 190.3,276.5 191.6,276.9 192.9,277.3 194.2,277.7 195.5,278.1 196.8,278.5 197.1,278.8 198.3,279.5 199.4,280.2 200.6,280.9 201.7,281.6 202.9,282.3 204.1,283.0 205.2,283.7 205.7,284.1 206.7,285.0 207.7,285.9 208.7,286.9" stroke="#ff6e00"/>
<polyline points="208.7,286.9 209.7,287.8 210.7,288.7 211.7,289.6 213.3,290.6 214.4,291.3 215.6,292.0 216.8,292.7 217.9,293.4 219.1,294.1 220.3,294.8 221.4,295.4 222.6,296.1 223.9,296.8 225.1,297.4 226.3,298.0 227.5,298.7 228.7,299.3 229.7,299.9 230.8,300.6 232.0,301.4 233.1,302.1 234.2,302.9 235.3,303.6 236.5,304.4 237.6,305.1 238.7,305.9 239.8,306.7 241.2,307.4 242.4,307.9 243.7,308.3 245.0,308.8 246.3,309.3 247.5,309.7 248.8,310.2 250.1,310.7 251.3,311.2 252.6,311.6 253.9,312.1 255.1,312.6 256.4,313.1 257.7,313.5 258.9,314.0 260.2,314.5" stroke="#ff1400"/>
<polyline points="260.2,314.5 261.5,314.9 262.7,315.3 264.0,315.7 265.3,316.1 266.6,316.5 267.9,316.9 269.2,317.4 270.5,317.8 271.7,318.2 273.0,318.7 274.3,319.1 275.6,319.5 276.8,319.9 278.1,320.2 279.4,320.5 280.7,320.8 282.1,321.2 283.4,321.5 284.7,321.9 286.0,322.6 287.2,323.2 288.4,323.9 289.6,324.6 290.7,325.2 291.9,325.9 293.1,326.6 294.2,327.3 295.4,328.0 296.6,328.7 297.7,329.3 298.9,330.0 300.1,330.7 301.3,331.3 302.4,332.0 303.6,332.6 304.8,333.3 306.0,334.0 307.1,334.7 308.3,335.3 309.5,336.0 310.6,336.7 311.8,337.4" stroke="#780000"/>
<polyline points="202.9,277.3 204.0,278.0 205.2,278.7 206.4,279.3 207.6,280.0 208.7,281.0 209.8,281.9 210.8,282.8 211.8,283.7" stroke="#780000"/>
<polyline points="211.8,283.7 212.8,284.6 213.8,285.5 214.9,286.4 215.8,286.9 217.0,287.6 218.1,288.2 219.3,288.9" stroke="#ff1400"/>
<polyline points="219.3,288.9 220.5,289.6 221.7,290.2 222.9,290.9 224.0,291.6 225.2,292.2 226.3,292.8 227.5,293.4 228.7,294.0 230.0,294.6 231.2,295.2 232.7,296.1 233.8,296.8 234.9,297.5 236.1,298.3 237.2,299.0 238.4,299.7 239.5,300.5 240.6,301.2 241.8,302.0 242.9,302.7 243.2,302.8 244.5,303.2 245.7,303.7 247.0,304.1 248.3,304.6 249.6,305.0 250.9,305.5 252.1,305.9 253.4,306.4 254.7,306.8 256.0,307.3 257.2,307.7 258.5,308.2 259.8,308.7 261.1,309.1 262.0,309.4" stroke="#ff6e00"/>
<polyline points="262.0,309.4 263.3,309.8 264.6,310.2 265.9,310.6 267.2,310.9 268.5,311.3 269.8,311.7 271.0,312.1 272.3,312.5 273.6,312.9 274.9,313.4 276.2,313.8 277.5,314.2 278.2,314.3 279.5,314.6 280.8,314.9 282.1,315.2 283.5,315.5" stroke="#ff1400"/>
<polyline points="179.0,267.7 180.3,268.2 181.5,268.7 182.8,269.2 184.0,269.8 185.2,270.3 186.5,270.8 187.7,271.4 189.0,271.9 190.2,272.4 191.5,272.9 192.7,273.5 194.0,274.0 195.2,274.5 196.5,275.0 197.7,275.5 198.7,276.3 199.8,277.1 200.9,277.9 202.0,278.7 203.1,279.5 204.1,280.3 205.2,281.2 206.3,282.0 207.0,282.8 207.9,283.8 208.8,284.8 209.7,285.9" stroke="#e3ff00"/>
<polyline points="209.7,285.9 210.6,286.9 211.5,287.9 212.4,288.9 213.7,290.0 214.8,290.8 215.8,291.7 216.9,292.5 218.0,293.3 219.1,294.1 220.1,295.0 221.2,295.8 222.3,296.6 223.5,297.4 224.7,298.2 225.8,298.9 226.9,299.7" stroke="#ff6e00"/>
<polyline points="226.9,299.7 228.1,300.4 228.8,301.0 229.8,301.9 230.9,302.8 231.9,303.6 233.0,304.5 234.0,305.3 235.1,306.2 236.1,307.0 237.2,307.9 238.2,308.7 240.1,309.9 241.3,310.5 242.5,311.0 243.8,311.6 245.0,312.1 246.3,312.6 247.5,313.2 248.7,313.7 250.0,314.2 251.2,314.7 252.5,315.3 253.7,315.8 255.0,316.3 256.2,316.8 257.5,317.3 259.0,317.8 260.3,318.3 261.5,318.7 262.8,319.1 264.1,319.5 265.4,319.9 266.7,320.3 268.0,320.6 269.3,321.0 270.6,321.4 271.9,321.8 273.2,322.2 274.5,322.6 276.1,322.9 277.4,323.1 278.7,323.4 280.0,323.6 281.4,323.9 282.7,324.1 284.0,324.4 284.9,324.7 286.1,325.3 287.3,325.8 288.6,326.4" stroke="#ff1400"/>
<polyline points="168.9,261.4 169.9,262.2 171.0,263.0 172.0,263.9 173.0,264.8 174.0,265.7 175.1,266.5 176.1,267.4 177.1,268.3 178.5,269.2 179.7,269.7 181.0,270.1 182.3,270.5 183.6,270.9 184.9,271.3 186.2,271.7" stroke="#e3ff00"/>
<polyline points="186.2,271.7 187.5,272.1 188.8,272.4 190.1,272.8 191.4,273.1 192.7,273.5 194.0,273.8 195.3,274.2 196.6,274.5 198.0,274.9 199.2,275.5 200.4,276.2 201.6,276.8 202.8,277.5 204.0,278.1 205.1,278.8 206.3,279.4 207.5,280.0 208.7,281.0 209.8,281.9 210.8,282.8 211.9,283.6" stroke="#ff6e00"/>
<polyline points="211.9,283.6 212.9,284.5 213.9,285.4 215.0,286.3 215.9,286.8 217.0,287.4 218.2,288.1 219.4,288.8 220.6,289.4 221.8,290.1 223.0,290.7 224.1,291.4 225.3,292.1 226.4,292.6 227.6,293.2 228.8,293.8 230.0,294.4 231.3,295.0 232.7,296.0 233.9,296.7 235.0,297.5 236.1,298.2 237.2,299.0 238.4,299.7 239.5,300.5 240.6,301.3 241.7,302.0 242.8,302.8 243.1,303.0 244.4,303.4 245.6,303.9 246.9,304.4 248.2,304.9 249.4,305.4 250.7,305.9 251.9,306.4 253.2,306.9 254.5,307.4 255.7,307.9 257.0,308.4 258.2,308.9 259.5,309.4 260.7,309.9 261.7,310.3" stroke="#ff1400"/>
<polyline points="261.7,310.3 262.9,310.7 264.2,311.2 265.5,311.6 266.8,312.1 268.0,312.5 269.3,313.0 270.6,313.4 271.8,313.9 273.1,314.4 274.4,314.9 275.6,315.3 276.9,315.8 277.8,316.1 279.1,316.4 280.4,316.8 281.7,317.2 283.0,317.5 284.3,317.9 285.6,318.3 287.8,319.4 288.9,320.0 290.1,320.7 291.3,321.5 292.4,322.2 293.6,322.9 294.7,323.6 295.9,324.3 297.0,325.0 298.2,325.7 299.2,326.3 300.4,327.0 301.5,327.7 302.7,328.4 303.9,329.0" stroke="#780000"/>
<polyline points="176.0,267.5 177.0,268.4 178.4,269.4 179.7,269.8 181.0,270.2 182.3,270.6 183.6,270.9 184.9,271.3 186.2,271.7 187.5,272.1 188.8,272.4 190.1,272.8 191.4,273.1 192.7,273.5 194.0,273.8 195.3,274.2 196.7,274.5 198.0,274.8 199.2,275.5 200.4,276.1 201.6,276.8 202.8,277.4 204.0,278.0 205.2,278.7 206.4,279.3 207.6,280.0 208.8,280.9 209.9,281.8 210.9,282.7 211.9,283.6" stroke="#780000"/>
<polyline points="211.9,283.6 213.0,284.4 214.0,285.3 215.0,286.2 215.9,286.7 217.1,287.3 218.3,288.0 219.5,288.7 220.7,289.3 221.8,290.0 223.0,290.7 224.2,291.3 225.4,292.0 226.4,292.6 227.6,293.2" stroke="#ff1400"/>
<polyline points="227.6,293.2 228.9,293.8 230.1,294.4 231.3,295.0 232.7,296.0 233.9,296.7 235.0,297.5 236.1,298.2 237.2,299.0 238.3,299.8 239.4,300.6 240.5,301.3 241.6,302.1 242.7,302.9 243.0,303.1 244.3,303.6 245.6,304.1 246.8,304.6 248.1,305.1 249.3,305.6 250.6,306.1 251.8,306.6 253.1,307.2 254.3,307.7 255.6,308.2 256.8,308.7 258.1,309.3 259.3,309.8 260.5,310.3 261.5,310.7" stroke="#ff6e00"/>
<polyline points="261.5,310.7 262.8,311.2 264.0,311.7 265.3,312.1 266.6,312.6 267.8,313.1 269.1,313.6 270.4,314.0 271.6,314.5 272.9,315.0 274.1,315.5 275.4,316.0 276.7,316.5 277.6,316.8 278.9,317.1" stroke="#ff1400"/>
<polyline points="180.3,268.2 181.5,268.7 182.8,269.2 184.0,269.8 185.3,270.3 186.5,270.8 187.8,271.3 189.0,271.8 190.3,272.3 191.5,272.8 192.8,273.3 194.0,273.9 195.3,274.4 196.5,274.9 197.8,275.4 198.8,276.2 199.9,277.0 201.0,277.8 202.0,278.6 203.1,279.4 204.2,280.2 205.3,281.0 206.4,281.9 207.1,282.7 208.0,283.7 208.9,284.8 209.7,285.8" stroke="#780000"/>
<polyline points="209.7,285.8 210.6,286.8 211.5,287.8 212.4,288.9 213.7,290.0 214.8,290.8 215.9,291.6 216.9,292.5 218.0,293.3 219.1,294.1 220.1,295.0 221.2,295.8 222.3,296.6 223.5,297.5" stroke="#ff1400"/>
<polyline points="223.5,297.5 224.6,298.3 225.7,299.0 226.8,299.8 228.0,300.6 228.7,301.2 229.7,302.1 230.7,303.0 231.8,303.8 232.8,304.7 233.8,305.6 234.9,306.5 235.9,307.3 236.9,308.2 238.0,309.1 239.9,310.3 241.1,310.9 242.3,311.5 243.6,312.1 244.8,312.6 246.0,313.2 247.2,313.8 248.5,314.3 249.7,314.9 250.9,315.4 252.2,316.0 253.4,316.5 254.7,317.0 255.9,317.6 257.1,318.1 258.7,318.7" stroke="#ff6e00"/>
<polyline points="258.7,318.7 259.9,319.1 261.2,319.6 262.5,320.0 263.8,320.4 265.1,320.8 266.4,321.2 267.7,321.7 268.9,322.1 270.2,322.5 271.5,322.9 272.8,323.3 274.1,323.7 275.8,324.1 277.1,324.3 278.4,324.6 279.7,324.8 281.1,325.1 282.4,325.4 283.7,325.6 284.2,325.9 285.5,326.5 286.7,327.0 287.9,327.6 289.1,328.2 290.4,328.7 291.6,329.3 292.8,329.9 294.1,330.4 295.3,331.0 296.6,331.6 297.8,332.1 299.1,332.6 300.4,333.1 301.6,333.7 302.9,334.2 304.1,334.7 305.4,335.2 306.6,335.7 307.9,336.2 309.1,336.8 310.3,337.3 311.6,337.8 312.8,338.4 314.1,338.9 315.3,339.5 316.6,340.0 317.8,340.5 319.0,341.1 320.2,341.6" stroke="#ff1400"/>
<polyline points="191.1,274.2 192.3,274.7 193.6,275.2 194.8,275.7 196.1,276.3 197.3,276.8 198.0,277.4 199.1,278.2 200.2,279.0 201.2,279.9 202.3,280.7 203.4,281.5 204.5,282.3 205.6,283.1 206.0,283.8 206.9,284.8 207.8,285.9 208.7,286.9" stroke="#780000"/>
<polyline points="208.7,286.9 209.5,287.9 210.4,288.9 211.3,290.0 212.8,291.3 213.9,292.1 215.0,293.0 216.0,293.8 217.1,294.6 218.2,295.5" stroke="#ff1400"/>
<polyline points="218.2,295.5 219.2,296.3 220.3,297.1 221.4,298.0 222.7,298.9 223.8,299.6 224.9,300.4 226.0,301.2 227.1,301.9 227.7,302.4 228.7,303.3 229.8,304.2 230.8,305.1 231.8,306.0 232.8,306.8 233.9,307.7 234.9,308.6 236.0,309.5 237.0,310.3 239.3,311.8 240.5,312.4 241.7,312.9 242.9,313.5 244.2,314.1 245.4,314.6 246.6,315.2 247.8,315.7 249.1,316.3 250.3,316.8 251.6,317.4 252.8,317.9 254.0,318.5 255.3,319.0 256.5,319.5 258.2,320.1" stroke="#ff6e00"/>
<polyline points="258.2,320.1 259.4,320.6 260.7,321.0 262.0,321.4 263.3,321.8 264.6,322.3 265.9,322.7 267.1,323.1 268.4,323.5 269.7,323.9 271.0,324.3 272.3,324.7 273.6,325.1 275.4,325.5 276.7,325.8 278.0,326.1 279.4,326.3 280.7,326.6 282.0,326.8 283.4,327.1 283.5,327.2 284.7,327.8 285.9,328.4 287.2,329.0 288.4,329.5 289.6,330.1 290.8,330.7 292.1,331.2 293.3,331.8 294.5,332.4 295.9,333.0 297.1,333.5 298.4,334.0 299.6,334.6 300.9,335.1 302.1,335.6 303.4,336.1 304.6,336.7 305.9,337.2 307.1,337.7 308.3,338.2 309.6,338.8 310.8,339.3 312.1,339.9 313.3,340.4 314.5,341.0 315.8,341.5 317.0,342.1 318.2,342.6 319.3,343.1 320.5,343.8 321.7,344.4" stroke="#ff1400"/>
<polyline points="175.4,264.1 176.4,265.0" stroke="#e3ff00"/>
<polyline points="176.4,265.0 177.4,266.0 178.3,266.9 179.0,267.7 180.3,268.2 181.5,268.7 182.7,269.3 184.0,269.8 185.2,270.3 186.5,270.8 187.7,271.4 189.0,271.8 190.3,272.3 191.5,272.8 192.8,273.3 194.0,273.8 195.3,274.3 196.6,274.7 197.8,275.2 198.9,275.9 200.1,276.7 201.2,277.5 202.3,278.2 203.4,279.0 204.5,279.7 205.7,280.5 206.8,281.2 207.7,282.1 208.6,283.1 209.6,284.0 210.5,285.0" stroke="#ff6e00"/>
<polyline points="210.5,285.0 211.5,285.9 212.5,286.9 213.4,287.8 214.6,288.7 215.7,289.4 216.8,290.2 218.0,290.9 219.1,291.6 220.2,292.4 221.4,293.1 222.5,293.8 223.7,294.5 224.8,295.2 226.0,295.9 227.2,296.5 228.4,297.2 229.6,297.8 230.7,298.6 231.8,299.3 232.9,300.1 234.1,300.9 235.2,301.6 236.3,302.4 237.4,303.2 238.5,303.9 239.6,304.7 240.8,305.5 241.8,306.0 243.0,306.5 244.3,306.9 245.6,307.4 246.9,307.8 248.2,308.3 249.4,308.7 250.7,309.2 252.0,309.6 253.3,310.1 254.6,310.5 255.8,311.0 257.1,311.4 258.4,311.9 259.7,312.3 260.8,312.6" stroke="#ff1400"/>
<polyline points="260.8,312.6 262.1,313.0 263.4,313.3 264.8,313.7 266.1,314.0 267.4,314.4 268.7,314.7 270.0,315.1 271.3,315.4 272.6,315.8 273.9,316.2 275.2,316.5 276.5,316.9 277.5,317.0 278.9,317.2 280.2,317.5 281.5,317.7 282.9,318.0 284.2,318.2 285.5,318.4 287.8,319.4 289.0,320.0 290.2,320.5 291.4,321.1 292.7,321.7 293.9,322.3 295.1,322.9 296.3,323.5 297.5,324.1 298.7,324.7 299.8,325.2 301.0,325.7 302.2,326.3 303.5,326.8 304.7,327.4 305.9,328.0 307.1,328.6 308.4,329.1 309.6,329.7 310.8,330.3 312.1,330.9 313.3,331.5 314.5,332.2 315.7,332.8 316.9,333.4 318.1,334.0 319.3,334.6 320.5,335.3" stroke="#780000"/>
<polyline points="191.8,272.1 193.1,272.4 194.4,272.7 195.7,273.1 197.0,273.4 198.3,273.7 199.9,274.5 201.1,275.1 202.3,275.8 203.5,276.4 204.7,277.0 205.9,277.7 207.1,278.3 208.3,278.9 209.7,280.1 210.7,280.9 211.8,281.8 212.8,282.7" stroke="#780000"/>
<polyline points="212.8,282.7 213.9,283.5 214.9,284.4 215.9,285.3 216.6,285.6 217.8,286.3 219.0,286.9 220.2,287.6 221.4,288.3 222.6,288.9 223.7,289.6 224.9,290.3 226.1,290.9 227.1,291.4 228.3,292.0 229.5,292.6 230.7,293.3 232.0,293.9 233.6,294.9 234.7,295.7 235.8,296.4 236.9,297.2 238.0,297.9 239.2,298.7 240.3,299.5 241.4,300.3 242.5,301.0 243.6,301.8 243.6,301.8 244.9,302.3 246.1,302.8 247.4,303.3 248.6,303.8 249.9,304.3 251.1,304.8 252.4,305.3 253.6,305.9 254.9,306.4 256.1,306.9 257.4,307.4 258.6,308.0 259.9,308.5 261.1,309.0 262.0,309.4" stroke="#ff1400"/>
<polyline points="262.0,309.4 263.3,309.8 264.5,310.3" stroke="#e1005a"/>
<polyline points="264.5,310.3 265.8,310.8 267.1,311.2 268.3,311.7 269.6,312.2 270.9,312.6 272.1,313.1 273.4,313.6 274.6,314.1 275.9,314.6 277.2,315.1 277.9,315.3 279.2,315.7 280.5,316.1 281.8,316.5 283.1,316.8 284.4,317.2 285.7,317.6 288.1,318.8 289.3,319.5 290.4,320.2 291.6,320.9 292.7,321.6 293.9,322.3 295.0,323.0 296.2,323.7 297.3,324.5 298.5,325.2 299.5,325.8 300.6,326.5 301.8,327.2 303.0,327.8 304.2,328.5 305.3,329.2 306.5,329.9 307.7,330.5 308.8,331.2 310.0,331.9 311.2,332.6 312.4,333.3 313.6,334.0 314.7,334.7 315.9,335.3 317.1,336.0 318.2,336.7 319.4,337.4" stroke="#ff1400"/>
<polyline points="178.0,267.3 178.9,268.1 180.2,268.4 181.5,268.8 182.8,269.2 184.1,269.6 185.4,270.0 186.7,270.4 188.0,270.7 189.2,271.1 190.6,271.4 191.9,271.8 193.2,272.1 194.5,272.4 195.8,272.8 197.1,273.1 198.4,273.4 200.0,274.2 201.2,274.9 202.4,275.5 203.6,276.1 204.8,276.8 206.0,277.4 207.2,278.0 208.4,278.7 209.9,279.9 210.9,280.7 212.0,281.6 213.0,282.5" stroke="#780000"/>
<polyline points="213.0,282.5 214.1,283.3 215.1,284.2 216.2,285.1 216.8,285.4 218.0,286.0 219.2,286.7 220.4,287.3 221.6,288.0 222.7,288.6 223.9,289.3 225.1,290.0 226.3,290.6 227.3,291.1 228.5,291.7 229.7,292.3 230.9,292.9 232.2,293.5 233.8,294.6 234.9,295.3 236.1,296.1 237.2,296.8" stroke="#ff1400"/>
<polyline points="237.2,296.8 238.3,297.6 239.4,298.4 240.5,299.1 241.7,299.9 242.8,300.7 243.9,301.4 243.8,301.4 245.1,301.9 246.3,302.4 247.6,302.8 248.8,303.3 250.1,303.8 251.4,304.3 252.6,304.8 253.9,305.3 255.1,305.8 256.4,306.4 257.6,306.9 258.9,307.4 260.1,307.9 261.4,308.4 262.2,308.8" stroke="#ff6e00"/>
<polyline points="262.2,308.8 263.5,309.2 264.8,309.7 266.0,310.1 267.3,310.6 268.6,311.0 269.8,311.5 271.1,312.0 272.4,312.4 273.6,312.9 274.9,313.4 276.2,313.9 277.4,314.4 278.1,314.6 279.4,314.9 280.7,315.3 282.0,315.7 283.3,316.0 284.6,316.4 285.9,316.8 288.5,318.0 289.7,318.7 290.8,319.4" stroke="#ff1400"/>
<polyline points="173.2,264.6 174.2,265.5 175.3,266.3" stroke="#e3ff00"/>
<polyline points="175.3,266.3 176.4,267.1 177.5,267.9 178.6,268.7 179.9,269.1 181.3,269.4 182.6,269.8 183.9,270.1 185.2,270.5 186.5,270.8 187.8,271.2 189.1,271.5 190.4,271.8 191.7,272.2 193.1,272.5 194.4,272.8 195.7,273.1 197.0,273.5 198.3,273.8 199.8,274.6 201.0,275.2 202.2,275.8 203.4,276.5 204.6,277.1 205.8,277.8 207.0,278.4 208.2,279.1 209.5,280.2 210.6,281.1 211.6,282.0 212.6,282.9" stroke="#ff6e00"/>
<polyline points="212.6,282.9 213.6,283.8 214.6,284.7 215.6,285.6 216.4,286.0 217.5,286.7 218.7,287.4 219.8,288.1 221.0,288.8 222.2,289.5 223.3,290.2 224.5,290.9" stroke="#ff1400"/>
<polyline points="224.5,290.9 225.6,291.7 226.6,292.3 227.8,292.9 229.0,293.6 230.2,294.3 231.3,294.9 232.8,295.9 233.8,296.7 234.9,297.6 236.0,298.4 237.1,299.2 238.1,300.0 239.2,300.9 240.3,301.7 241.3,302.5 242.4,303.4 242.8,303.7 244.0,304.3 245.2,304.8 246.5,305.4 247.7,306.0 248.9,306.6 250.1,307.1 251.3,307.7 252.6,308.3 253.8,308.9 255.0,309.5 256.2,310.1 257.4,310.7 258.6,311.3 259.9,311.9 260.9,312.4 262.2,312.9 263.4,313.4 264.7,314.0 265.9,314.5" stroke="#780000"/>
<polyline points="198.8,283.7 199.9,284.5 201.0,285.3 202.1,286.1 203.1,287.0 202.8,287.0 203.7,288.0 204.6,289.1 205.5,290.1" stroke="#ff1400"/>
<polyline points="205.5,290.1 206.4,291.1 207.3,292.1 208.2,293.1 210.4,294.9 211.5,295.8 212.5,296.6 213.6,297.4 214.7,298.2 215.8,299.0 216.9,299.8 218.0,300.6 219.1,301.4 220.5,302.4 221.7,303.2 222.8,303.9 224.0,304.6 225.1,305.4 225.3,305.6 226.3,306.4 227.4,307.3 228.4,308.1 229.5,309.0 230.6,309.8 231.6,310.6 232.7,311.5 233.7,312.3 234.8,313.1 237.8,315.0 239.1,315.6 240.3,316.1 241.6,316.6" stroke="#780000"/>
<polyline points="241.6,316.6 242.8,317.1 244.1,317.7 245.3,318.2 246.6,318.7 247.8,319.2 249.1,319.7 250.3,320.2 251.6,320.7 252.8,321.2 254.1,321.7 255.3,322.2 257.2,322.9" stroke="#ff1400"/>
<polyline points="257.2,322.9 258.5,323.3 259.8,323.7 261.0,324.1 262.3,324.5 263.6,324.9 264.9,325.3 266.2,325.7 267.5,326.1 268.8,326.5 270.1,326.8 271.4,327.2 272.7,327.6 274.7,328.1 276.1,328.4 277.4,328.6 278.7,328.9 280.1,329.2 281.4,329.4 282.7,329.7 282.2,329.6 283.4,330.1 284.7,330.7 285.9,331.3 287.1,331.9 288.3,332.5 289.5,333.1 290.8,333.7 292.0,334.3 293.2,334.9 294.6,335.6 295.9,336.1 297.1,336.7 298.3,337.2 299.6,337.8 300.8,338.3 302.0,338.9 303.2,339.5 304.5,340.0 305.7,340.6 306.9,341.2 308.1,341.8 309.3,342.4" stroke="#e1005a"/>
<polyline points="309.3,342.4 310.5,343.0 311.7,343.6 312.9,344.2 314.1,344.8 315.3,345.4 316.5,346.0 317.4,346.4 318.5,347.1 319.7,347.9 320.8,348.6 322.0,349.3 323.1,350.0" stroke="#ff1400"/>
<polyline points="184.5,276.4 185.8,276.9 187.2,277.4 188.4,277.9 189.7,278.3 191.0,278.7 192.3,279.2 193.6,279.6 194.8,280.0 196.1,280.5 196.0,280.6 197.1,281.3 198.3,282.0 199.4,282.7 200.6,283.4 201.7,284.1 202.9,284.8 204.0,285.5 204.1,285.7 205.1,286.6 206.1,287.5 207.1,288.5" stroke="#780000"/>
<polyline points="207.1,288.5 208.1,289.4 209.1,290.3 210.1,291.2 212.0,292.6 213.1,293.3 214.3,294.0 215.4,294.7 216.6,295.4 217.8,296.1 218.9,296.8 220.1,297.5 221.2,298.2 222.6,298.9 223.8,299.6 225.0,300.2 226.2,300.8 227.4,301.4 228.2,301.9 229.3,302.6 230.4,303.4 231.5,304.2 232.6,304.9 233.7,305.7 234.9,306.4 236.0,307.2 237.1,308.0 238.2,308.7 240.1,309.8 241.4,310.3 242.6,310.8 243.9,311.2 245.2,311.7 246.4,312.2 247.7,312.7 249.0,313.1 250.3,313.6 251.5,314.1 252.8,314.6 254.0,315.1 255.3,315.5 256.6,316.0 257.8,316.5 259.3,317.0" stroke="#ff1400"/>
<polyline points="259.3,317.0 260.5,317.4 261.8,317.9 263.1,318.3" stroke="#e1005a"/>
<polyline points="263.1,318.3 264.4,318.7 265.7,319.1 267.0,319.5 268.3,319.9 269.5,320.4 270.8,320.8 272.1,321.2 273.4,321.7 274.7,322.1 276.2,322.5 277.5,322.8 278.8,323.2 280.1,323.5 281.4,323.8 282.7,324.2 284.0,324.5" stroke="#ff1400"/>
<polyline points="177.7,267.7 178.7,268.6 179.9,269.1 181.2,269.6 182.5,270.1 183.7,270.6 185.0,271.1 186.2,271.6 187.5,272.1 188.8,272.6 190.0,273.0 191.3,273.5 192.6,273.9 193.8,274.4 195.1,274.8 196.4,275.3 197.7,275.7 198.7,276.4 199.8,277.1 200.9,277.8 202.1,278.6 203.2,279.3 204.3,280.0 205.5,280.7 206.6,281.5 207.5,282.3 208.5,283.2 209.5,284.2 210.4,285.1" stroke="#ff6e00"/>
<polyline points="210.4,285.1 211.4,286.0 212.4,286.9 213.4,287.9 214.6,288.7 215.7,289.4 216.9,290.1 218.0,290.8 219.2,291.5 220.3,292.2 221.5,292.9 222.7,293.6 223.8,294.3 225.0,295.0 226.2,295.6 227.4,296.2 228.6,296.8 229.8,297.5 231.0,298.2 232.1,299.0 233.3,299.7 234.4,300.5 235.5,301.2 236.6,302.0 237.8,302.7 238.9,303.5 240.0,304.2 241.2,304.9 242.0,305.4 243.3,305.9 244.6,306.3 245.9,306.8 247.2,307.2 248.4,307.6 249.7,308.1 251.0,308.5 252.3,309.0 253.6,309.4 254.8,309.9 256.1,310.3 257.4,310.7 258.7,311.2 260.0,311.6 261.1,311.9" stroke="#780000"/>
<polyline points="261.1,311.9 262.4,312.3 263.7,312.7 265.0,313.0 266.3,313.4 267.6,313.8 268.9,314.1 270.2,314.5 271.5,314.9 272.8,315.2 274.1,315.6 275.4,316.0 276.7,316.4 277.7,316.5 279.0,316.8 280.3,317.0 281.6,317.3 283.0,317.6 284.3,317.8 285.6,318.1 287.9,319.1 289.1,319.7 290.3,320.3 291.5,320.9 292.7,321.5 293.9,322.2 295.1,322.8 296.3,323.4 297.5,324.0 298.7,324.7 299.8,325.2 301.0,325.8 302.2,326.4 303.4,327.0 304.6,327.6 305.8,328.2 307.0,328.8 308.2,329.4 309.4,330.0 310.6,330.6 311.9,331.3 313.1,331.9 314.3,332.6 315.4,333.2 316.6,333.9 317.8,334.5" stroke="#ff6e00"/>
<polyline points="317.8,334.5 319.0,335.2 320.2,335.8" stroke="#e1005a"/>
<polyline points="90.2,219.8 91.5,219.9 92.9,220.0 94.2,220.1 94.8,220.6 96.0,221.3 97.1,221.9 98.3,222.6 99.5,223.2 100.4,223.8 101.5,224.6 102.7,225.3 103.8,226.1 104.9,226.8 106.1,227.5 107.2,228.2 108.4,228.9 109.6,229.6 110.8,230.3 111.9,230.9 113.1,231.6 114.3,232.2 115.5,232.8 116.9,233.4 118.1,234.0 119.3,234.5 120.6,235.0 121.8,235.6 123.1,236.1 124.3,236.6 125.6,237.1 126.5,237.6 127.7,238.3 128.9,239.0 130.0,239.6 131.2,240.3 132.4,241.0 133.5,241.7 134.8,242.5 136.1,243.1 137.3,243.7 138.5,244.3 139.7,244.9 140.8,245.6 142.0,246.2 143.2,246.9 144.3,247.5 145.4,248.3 146.5,249.1 147.6,249.8 148.8,250.6 149.9,251.4 150.9,252.2 152.0,253.0" stroke="#00b532"/>
<polyline points="152.0,253.0 153.1,253.9 154.4,254.8 155.5,255.6 156.6,256.3 157.7,257.1 158.8,257.9 159.5,258.4 160.5,259.4 161.5,260.3 162.5,261.3 163.4,262.2 164.4,263.1 165.4,264.1 166.4,265.0 166.9,265.6 167.9,266.6" stroke="#e3ff00"/>
<polyline points="87.5,220.3 88.8,220.1 90.2,219.9 91.5,219.6 92.8,219.4 94.2,219.1 95.3,219.3 96.6,219.7 97.9,220.0 99.2,220.3 100.6,220.6 101.9,221.0 103.2,221.5 104.5,222.0 105.8,222.5 107.1,222.9 108.3,223.4 109.6,223.9 110.9,224.4 112.2,224.8 113.4,225.3 114.7,225.8 116.0,226.3 117.2,226.8 118.5,227.4 119.7,227.8 120.9,228.3 122.2,228.8 123.4,229.4 124.7,229.9 125.9,230.5 127.1,231.0 128.3,231.6 129.9,232.5 131.0,233.3 132.1,234.1 133.2,234.8 134.3,235.6 135.4,236.4 136.5,237.2 137.3,237.9 138.5,238.6 139.6,239.3 140.8,240.0 141.9,240.8 143.0,241.5 144.2,242.2 145.3,243.0 146.5,243.8 147.7,244.5 148.8,245.3 149.9,246.1 151.0,246.9 152.1,247.6 153.2,248.4 154.4,249.1 155.5,249.8 156.6,250.5 157.8,251.1 159.0,251.7 160.2,252.3" stroke="#00b532"/>
<polyline points="160.2,252.3 161.4,252.9 162.8,253.6 164.0,254.4 165.1,255.1 166.3,255.8 167.4,256.5 168.6,257.1 169.8,257.8 171.0,258.5 172.4,259.4 173.5,260.1 174.6,260.9 175.7,261.7 176.8,262.5 177.9,263.3 179.1,264.0 180.2,264.8 180.0,264.8 181.3,265.1 182.7,265.4 184.0,265.7 185.3,266.1 186.6,266.4 187.9,266.7 189.2,267.1" stroke="#e3ff00"/>
<polyline points="95.7,222.0 96.8,222.8 97.9,223.6 99.1,224.5 99.7,225.1 100.7,226.0 101.7,227.0 102.8,227.9 103.8,228.9 104.8,229.8 105.9,230.7 106.9,231.6 108.0,232.5 109.1,233.4 110.1,234.2 111.2,235.1 112.3,235.9 113.4,236.7 114.8,237.6 115.9,238.4 117.0,239.1 118.2,239.8 119.3,240.5 120.5,241.2 121.7,241.9 122.9,242.6 123.1,242.8 124.2,243.6 125.3,244.4 126.4,245.1 127.5,245.9 128.6,246.7 129.7,247.4 131.5,248.6 132.7,249.3 133.9,249.9 135.1,250.6 136.3,251.2 137.5,251.9 138.6,252.5 139.8,253.2 140.6,253.7 141.7,254.4 142.9,255.2 144.0,255.9 145.1,256.7 146.2,257.5 147.3,258.3 148.4,259.1 149.5,259.9 151.2,261.1" stroke="#00b532"/>
<polyline points="151.2,261.1 152.3,261.8 153.4,262.6 154.5,263.4 155.6,264.2 155.4,264.3 156.4,265.2 157.3,266.2 158.3,267.2 159.3,268.2" stroke="#e3ff00"/>
<polyline points="89.9,217.3 91.3,217.1 92.6,217.0 94.0,216.9 96.0,217.4 97.3,217.9 98.5,218.4 99.8,219.0 101.0,219.5 102.4,220.2 103.5,220.9 104.7,221.7 105.8,222.4 106.9,223.2 108.1,223.9 109.2,224.7 110.3,225.4 111.4,226.2 112.6,226.9 113.7,227.7 114.8,228.5 115.9,229.2 117.1,230.0 118.2,230.7 119.4,231.4 120.6,232.1 121.7,232.7 122.9,233.4 124.1,234.1 125.3,234.7 126.5,235.3 127.5,236.0 128.7,236.8 129.8,237.5 130.9,238.3 132.1,239.0 133.2,239.7 134.4,240.4 135.6,241.1 136.8,241.6 138.1,242.2 139.3,242.7 140.6,243.2 141.8,243.7 143.1,244.3 144.3,244.8 145.6,245.3 146.9,245.8 148.1,246.4 149.4,247.0 150.6,247.5 151.9,248.1 153.1,248.6 154.3,249.2 155.6,249.7 156.7,250.2 157.9,250.7 159.2,251.2 160.5,251.7 161.7,252.3" stroke="#00b532"/>
<polyline points="161.7,252.3 163.3,253.0 164.4,253.7 165.6,254.5 166.7,255.2" stroke="#e3ff00"/>
<polyline points="96.0,221.2 97.3,221.7 98.5,222.1 99.8,222.6 100.8,223.0 102.0,223.7 103.2,224.3 104.4,225.0 105.6,225.6 106.8,226.3 107.9,227.0 109.1,227.6 110.3,228.3 111.4,229.0 112.6,229.7 113.7,230.5 114.9,231.2 116.0,231.9 117.2,232.7 118.4,233.4 119.5,234.2 120.6,234.9 121.8,235.7 122.9,236.5 124.0,237.2 125.1,238.0 125.8,238.7 126.8,239.6 127.8,240.6 128.8,241.5 129.8,242.5 130.7,243.4 131.7,244.4 133.2,245.6 134.2,246.5 135.3,247.3 136.4,248.2 137.5,249.0 138.6,249.8 139.6,250.7 140.7,251.5 141.5,252.1 142.6,253.0" stroke="#00b532"/>
<polyline points="142.6,253.0 143.7,253.8 144.8,254.6 145.9,255.4 147.0,256.2 148.1,257.0 149.2,257.8 150.3,258.5 151.9,259.6 153.1,260.2 154.3,260.9 155.5,261.5 156.7,262.1 156.9,262.2 158.0,262.9 159.1,263.7 160.3,264.4 161.4,265.1 162.5,265.9 163.7,266.6 164.8,267.3 165.2,267.6 166.3,268.4 167.4,269.2 168.5,270.0 169.6,270.7 170.7,271.5 171.8,272.3 172.9,273.1 176.4,275.2 177.7,275.6 179.0,276.0 180.3,276.3" stroke="#e3ff00"/>
<polyline points="84.8,218.0 86.1,218.2 87.3,218.3 88.7,218.4 90.0,218.4 91.4,218.5 92.8,218.5 94.1,218.6 95.3,219.2 96.5,219.9 97.7,220.6 98.9,221.3 100.0,222.0 101.0,222.7 102.1,223.5 103.2,224.4 104.2,225.2 105.3,226.1 106.4,226.9 107.5,227.8 108.6,228.6 109.7,229.5 110.8,230.3 111.9,231.1 113.0,231.9 114.1,232.7 115.2,233.4 116.5,234.2 117.6,234.9 118.8,235.6 119.9,236.3 121.1,237.0 122.3,237.6 123.5,238.3 124.7,238.9 125.3,239.4 126.5,240.1 127.6,240.8 128.7,241.6 129.9,242.3 131.0,243.0 132.2,243.7 133.7,244.6 134.9,245.1 136.2,245.7 137.4,246.3 138.6,246.9 139.9,247.4 141.1,248.0" stroke="#00b532"/>
<polyline points="141.1,248.0 142.3,248.6 143.4,249.1 144.6,249.7 145.8,250.3 147.0,251.0 148.1,251.6 149.3,252.3 150.5,253.0 151.7,253.6 152.8,254.3 154.2,255.1 155.4,255.8 156.6,256.4 157.7,257.1 158.9,257.8 159.6,258.2 160.7,259.1 161.7,260.0 162.7,260.8 163.8,261.7 164.8,262.6 165.8,263.5 166.8,264.4 167.4,265.1 168.3,266.1" stroke="#e3ff00"/>
<polyline points="91.6,220.7 92.9,220.6 94.3,220.4 94.7,220.7 96.0,221.2 97.3,221.6 98.6,222.1 99.8,222.5 100.9,222.9 102.2,223.4 103.4,224.0 104.6,224.6 105.9,225.1 107.1,225.7 108.3,226.2 109.6,226.8 110.8,227.3 112.1,227.9 113.3,228.4 114.5,229.0 115.8,229.5 117.0,230.1 118.3,230.6 119.5,231.2 120.7,231.7 122.0,232.3 123.2,232.9 124.4,233.4 125.6,234.0 126.8,234.7 128.0,235.4 129.1,236.2 130.2,237.0 131.3,237.8 132.3,238.6 133.4,239.4 134.5,240.3 135.6,241.1 136.7,241.9 137.8,242.6 138.9,243.4 140.1,244.2 141.2,245.0 142.3,245.8 143.4,246.6 144.4,247.3 145.5,248.2 146.6,249.0 147.6,249.9 148.7,250.7 149.8,251.5 150.8,252.4 151.9,253.2 153.0,254.0" stroke="#00b532"/>
<polyline points="97.8,220.4 99.0,221.0 100.2,221.6 101.3,222.3 102.4,223.1 103.4,223.9 104.5,224.7 105.6,225.6 106.7,226.4 107.8,227.3 108.8,228.1 109.9,229.0 111.0,229.9 112.0,230.7 113.1,231.6 114.2,232.5 115.2,233.3 116.5,234.2 117.6,235.1 118.6,235.9 119.8,236.7 120.9,237.5 122.0,238.3 123.1,239.1 124.2,239.9 124.6,240.4 125.7,241.3 126.7,242.2 127.8,243.1 128.8,243.9 129.9,244.8 130.9,245.6 132.6,246.7 133.7,247.4 134.9,248.1 136.0,248.8 137.2,249.5 138.4,250.1 139.6,250.7 140.8,251.4 141.7,251.9 142.9,252.5 144.1,253.2 145.2,253.8 146.4,254.5 147.6,255.1 148.8,255.8 150.0,256.4 151.2,257.1 152.8,257.9 154.0,258.5 155.2,259.1 156.4,259.6" stroke="#00b532"/>
<polyline points="156.4,259.6 157.7,260.2 158.1,260.4 159.2,261.2 160.3,261.9 161.4,262.7 162.5,263.5 163.6,264.3 164.7,265.1 165.8,265.9 166.2,266.4 167.2,267.3 168.2,268.2 169.2,269.2 170.2,270.1 171.2,271.0" stroke="#e3ff00"/>
<polyline points="94.3,220.8 94.6,221.0 95.9,221.5 97.1,222.0 98.4,222.5 99.7,222.9 100.7,223.3 101.9,223.9 103.1,224.6 104.3,225.2 105.5,225.8 106.7,226.5 107.9,227.1 109.1,227.7 110.2,228.4 111.4,229.0 112.6,229.7 113.8,230.4 114.9,231.1 116.1,231.8 117.3,232.5 118.5,233.2 119.7,233.9 120.8,234.6 122.0,235.3 123.1,236.0 124.2,236.8 125.4,237.5 126.1,238.2 127.1,239.1 128.1,240.0 129.1,241.0 130.2,241.9 131.2,242.8 132.1,243.8 133.5,244.9 134.6,245.8 135.7,246.6 136.8,247.5 137.8,248.3 138.9,249.2 140.0,250.0 141.1,250.9 141.9,251.5 142.9,252.4 144.0,253.3 145.1,254.1 146.1,255.0 147.2,255.8 148.3,256.6 149.4,257.4" stroke="#00b532"/>
<polyline points="149.4,257.4 150.5,258.2 152.1,259.3 153.3,259.9 154.4,260.6 155.6,261.3 156.8,261.9 157.0,262.0 158.1,262.8 159.2,263.6 160.3,264.3 161.4,265.1 162.5,265.8 163.7,266.6 164.8,267.3 165.2,267.6 166.3,268.4 167.4,269.2" stroke="#e3ff00"/>
<polyline points="94.1,222.4 95.2,223.1 96.4,223.9 97.6,224.6 98.7,225.3 99.3,225.8 100.3,226.7 101.4,227.6 102.4,228.5 103.5,229.4 104.5,230.4 105.6,231.3 106.6,232.3 107.6,233.2 108.6,234.2 109.6,235.2 110.6,236.1 111.6,237.1 112.6,238.1 113.9,239.2 115.0,240.2 116.0,241.2 117.0,242.2 118.0,243.2 119.0,244.2 120.1,245.2 121.1,246.1 120.7,246.4 121.5,247.5 122.4,248.6 123.3,249.7 124.2,250.8 125.2,251.9 126.1,252.9 128.2,254.7 129.3,255.7 130.3,256.6 131.3,257.6 132.4,258.5 133.4,259.4 134.5,260.3 135.5,261.2 135.9,261.6" stroke="#00b532"/>
<polyline points="135.9,261.6 136.9,262.5 138.0,263.4 139.0,264.3 140.1,265.1 141.1,266.0 142.2,266.8 143.3,267.6 144.4,268.4 146.7,269.9 147.8,270.6 149.0,271.3 150.1,272.1 151.3,272.8 150.0,272.0 151.0,272.9 152.1,273.8 153.1,274.6" stroke="#e3ff00"/>
<polyline points="95.1,219.7 96.3,220.5 97.4,221.2 98.6,222.0 99.8,222.7 100.6,223.4 101.7,224.3 102.7,225.2 103.8,226.1 104.8,227.0 105.9,227.9 107.0,228.8 108.0,229.7 109.1,230.5 110.1,231.4 111.2,232.3 112.3,233.1 113.4,234.0 114.4,234.8 115.7,235.7 116.9,236.4 118.0,237.2 119.1,237.9 120.3,238.7 121.4,239.4 122.6,240.1 123.8,240.8 124.2,241.1 125.3,241.9 126.4,242.7 127.5,243.5 128.6,244.3 129.7,245.0 130.8,245.8 132.5,246.8 133.7,247.4 134.9,248.0 136.1,248.7 137.3,249.3 138.5,249.9 139.7,250.5 141.0,251.1 141.9,251.5 143.1,252.2 144.3,252.9 145.4,253.5" stroke="#00b532"/>
<polyline points="145.4,253.5 146.6,254.2 147.8,254.9 148.9,255.6 150.1,256.3 151.2,257.0 152.8,257.9 153.9,258.6 155.1,259.3 156.3,259.9 157.5,260.6 157.8,260.9 158.8,261.8 159.8,262.7 160.9,263.5 161.9,264.4 162.9,265.4 163.9,266.3" stroke="#e3ff00"/>
<polyline points="97.1,222.0 98.3,222.8 99.4,223.6 100.2,224.3 101.2,225.2 102.2,226.2 103.2,227.1 104.2,228.1 105.2,229.0 106.3,230.0 107.3,231.0 108.3,231.9 109.3,232.9 110.4,233.8 111.4,234.8 112.4,235.7 113.4,236.7 114.7,237.7 115.8,238.6 116.9,239.4 117.9,240.3 119.0,241.2 120.1,242.0 121.2,242.8 122.3,243.6 122.3,243.9 123.3,244.8 124.4,245.7 125.4,246.6 126.4,247.5 127.5,248.4 128.5,249.2 130.5,250.6 131.6,251.3 132.8,252.0 133.9,252.7 135.1,253.4 136.3,254.1 137.4,254.7 138.6,255.4 139.3,255.8 140.5,256.5 141.6,257.3 142.8,258.0 143.9,258.7 145.1,259.4" stroke="#00b532"/>
<polyline points="145.1,259.4 146.2,260.1 147.4,260.8 148.5,261.6 150.3,262.7 151.5,263.4 152.7,264.0 153.9,264.7 155.0,265.4 154.7,265.3 155.7,266.1" stroke="#e3ff00"/>
<polyline points="85.9,220.9 87.5,220.9 88.9,220.8 90.2,220.6 91.6,220.5 92.9,220.3 94.3,220.1 94.9,220.3 96.2,220.8 97.4,221.2 98.7,221.6 100.0,222.0 101.2,222.4 102.4,222.9 103.7,223.5 104.9,224.1 106.1,224.7 107.3,225.2 108.6,225.8 109.8,226.4 111.0,227.0 112.2,227.6 113.4,228.2 114.6,228.8 115.8,229.4 117.0,230.0 118.2,230.7 119.4,231.3 120.6,231.9 121.8,232.6 123.0,233.2 124.2,233.9 125.3,234.6 126.5,235.3 127.5,236.0 128.6,236.9 129.6,237.8 130.7,238.6 131.7,239.5 132.7,240.4 133.8,241.3 134.9,242.3 136.0,243.1 137.2,243.9 138.3,244.7 139.4,245.5 140.5,246.3 141.6,247.1 142.7,247.9 143.6,248.6" stroke="#00b532"/>
<polyline points="143.6,248.6 144.7,249.5 145.8,250.3 146.9,251.1 148.0,251.9 149.1,252.7 150.2,253.5 151.3,254.3 152.4,255.0 153.8,255.9 155.0,256.6 156.2,257.2 157.4,257.9 158.6,258.5 159.2,258.8 160.3,259.6 161.5,260.3 162.6,261.0 163.7,261.8 164.9,262.5 166.0,263.2 167.2,263.9 168.0,264.4 169.1,265.2 170.2,266.0 171.3,266.7 172.4,267.5 173.5,268.3 174.7,269.1 175.8,269.9" stroke="#e3ff00"/>
<polyline points="84.7,219.3 86.0,219.8 87.5,220.1 88.8,220.4 90.2,220.6 91.6,220.8 93.0,221.1 94.4,221.3 94.3,221.9 95.4,222.7 96.5,223.6 97.6,224.5 98.7,225.3 99.2,226.0 100.2,227.0 101.2,228.0 102.1,229.1 103.1,230.1 104.1,231.1 105.1,232.2 106.1,233.3 107.0,234.3 108.0,235.3 109.0,236.4 109.9,237.4 110.9,238.5 111.9,239.5 113.2,240.7 114.2,241.7 115.3,242.6 116.3,243.6 117.3,244.6 118.4,245.5 119.4,246.5 120.4,247.4 119.9,247.5 120.9,248.6 121.8,249.6 122.8,250.6 123.8,251.5 124.7,252.5 125.7,253.5 128.0,255.2 129.1,256.0 130.2,256.8 131.3,257.6 132.4,258.4 133.5,259.2 134.6,260.0 135.8,260.7" stroke="#00b532"/>
<polyline points="135.8,260.7 136.2,261.1 137.3,261.9 138.4,262.7 139.5,263.5 140.6,264.3 141.7,265.1 142.8,265.8 143.9,266.6 145.0,267.4 147.2,268.8 148.4,269.6 149.5,270.3 150.7,271.0 151.8,271.8 150.6,271.2 151.6,272.1 152.6,273.0 153.6,273.9 154.6,274.9 155.6,275.8 156.5,276.8 157.5,277.8 156.6,277.4 157.5,278.5 158.4,279.5 159.4,280.4 160.4,281.3 161.3,282.3 162.3,283.3 163.2,284.2 171.4,289.4 172.6,289.9 173.8,290.5" stroke="#e3ff00"/>
<polyline points="94.1,222.2 95.3,222.9 96.5,223.5 97.8,224.1 99.0,224.7 99.7,225.0 100.9,225.7 102.0,226.4 103.2,227.1 104.4,227.8 105.6,228.5 106.8,229.1 108.0,229.8 109.2,230.4 110.3,231.0 111.5,231.7 112.7,232.3 113.9,232.9 115.1,233.5 116.5,234.2 117.7,234.8 118.9,235.4 120.1,236.0 121.3,236.6 122.5,237.2 123.7,237.9 124.9,238.5 125.6,239.0 126.7,239.8 127.7,240.6 128.8,241.5 129.9,242.3 130.9,243.1 132.0,244.0 133.4,245.1 134.5,245.9 135.6,246.7 136.7,247.5 137.8,248.3 138.9,249.2 140.0,250.0 141.1,250.9 141.9,251.6 142.9,252.5 143.9,253.4 145.0,254.3 146.0,255.2 147.0,256.1 148.0,257.1" stroke="#00b532"/>
<polyline points="148.0,257.1 149.1,258.0 150.1,258.9 151.7,260.1 152.8,260.9 153.9,261.7" stroke="#e3ff00"/>
<polyline points="92.8,219.3 94.2,219.4 95.0,219.9 96.2,220.6 97.4,221.2 98.6,221.9 99.8,222.5 100.8,223.1 101.9,223.9 103.0,224.7 104.1,225.4 105.3,226.2 106.4,226.9 107.6,227.6 108.7,228.3 109.9,229.0 111.1,229.7 112.3,230.3 113.5,231.0 114.6,231.6 115.8,232.2 117.2,232.8 118.4,233.4 119.6,233.9 120.9,234.5 122.1,235.0 123.4,235.5 124.6,236.0 125.9,236.5 126.9,237.0 128.1,237.7 129.3,238.3 130.5,239.0 131.7,239.6 132.8,240.3 134.0,240.9 135.3,241.6 136.5,242.2 137.8,242.8 139.0,243.3 140.2,243.9 141.4,244.5 142.6,245.1 143.8,245.7" stroke="#00b532"/>
<polyline points="143.8,245.7 145.0,246.4 146.2,247.1 147.3,247.8 148.4,248.5 149.6,249.2 150.7,250.0 151.8,250.7 152.9,251.5 154.1,252.3 155.2,253.1 156.4,253.8 157.5,254.6 158.6,255.3 159.8,256.1 160.7,256.7" stroke="#e3ff00"/>
<polyline points="83.2,220.7 84.6,221.1 85.9,221.5 87.6,221.7 89.0,221.8 90.3,221.9 91.7,222.0 93.1,222.0 94.4,222.0 94.1,222.3 95.3,222.9 96.5,223.5 97.8,224.1 99.0,224.6 99.7,225.0 100.9,225.7 102.1,226.4 103.2,227.0 104.4,227.7 105.6,228.4 106.8,229.0 108.0,229.7 109.2,230.3 110.4,231.0 111.6,231.6 112.8,232.3 113.9,232.9 115.1,233.6 116.4,234.3 117.6,234.9 118.8,235.5 120.0,236.2 121.2,236.8 122.4,237.5 123.5,238.2 124.7,238.9 125.3,239.4 126.3,240.3 127.4,241.2 128.4,242.0 129.5,242.9 130.5,243.8 131.5,244.7 133.0,245.9 134.1,246.8 135.1,247.6 136.2,248.5 137.3,249.3 138.4,250.2 139.4,251.1 140.5,252.0 141.2,252.7 142.2,253.6 143.3,254.5 144.3,255.5" stroke="#00b532"/>
<polyline points="144.3,255.5 145.3,256.4 146.3,257.3 147.3,258.2 148.4,259.1 149.4,260.0 151.1,261.3 152.2,262.1 153.3,262.9 154.4,263.7 155.5,264.4 155.3,264.5 156.3,265.4 157.3,266.2 158.4,267.1 159.4,268.0 160.5,268.8 161.5,269.7 162.6,270.5 162.6,270.6" stroke="#e3ff00"/>
<polyline points="84.7,218.5 86.1,218.5 87.3,218.4 88.7,218.2 90.0,218.0 91.3,217.8 92.7,217.6 94.0,217.5 95.8,217.9 97.1,218.4 98.3,218.9 99.6,219.4 100.8,219.9 102.2,220.6 103.3,221.3 104.5,222.0 105.6,222.7 106.8,223.5 107.9,224.2 109.0,225.0 110.1,225.8 111.3,226.5 112.4,227.3 113.5,228.1 114.6,228.9 115.7,229.7 116.8,230.5 118.0,231.2 119.1,232.0 120.2,232.7 121.4,233.5 122.5,234.2 123.7,234.9 124.8,235.7 126.0,236.4 126.9,237.1 127.9,237.9 129.0,238.7 130.1,239.6 131.2,240.4 132.3,241.1 133.4,241.9 134.7,242.8 135.9,243.4 137.0,244.1 138.2,244.7 139.5,245.3 140.7,245.9" stroke="#00b532"/>
<polyline points="140.7,245.9 141.9,246.5 143.1,247.1 144.3,247.6 145.5,248.2 146.7,248.8 147.9,249.4 149.1,250.0 150.4,250.6 151.6,251.1 152.8,251.7 154.0,252.3 155.3,252.9 156.6,253.4 157.8,253.9 159.1,254.4 160.4,254.9 161.6,255.4" stroke="#e3ff00"/>
<polyline points="97.1,222.1 98.2,222.9 99.4,223.7 100.1,224.3 101.1,225.3 102.1,226.3 103.2,227.2 104.2,228.2 105.2,229.1 106.2,230.1 107.2,231.1 108.3,232.0 109.3,233.0 110.3,233.9 111.4,234.8 112.4,235.8 113.4,236.7 114.7,237.7 115.8,238.5 116.9,239.4 118.0,240.2 119.1,241.0 120.2,241.8 121.3,242.6 122.4,243.4 122.5,243.7 123.5,244.5 124.6,245.4 125.6,246.3 126.7,247.1 127.8,247.9 128.8,248.8 130.8,250.1 131.9,250.8 133.1,251.4 134.3,252.1 135.4,252.8 136.6,253.5 137.8,254.1 139.0,254.8 139.7,255.2 140.9,255.9 142.0,256.6 143.2,257.3 144.3,258.0 145.5,258.8 146.6,259.5 147.7,260.2 148.9,260.9 150.7,262.1" stroke="#00b532"/>
<polyline points="150.7,262.1 151.8,262.7 153.0,263.4 154.2,264.1 155.3,264.8 155.1,264.8" stroke="#e3ff00"/>
<polyline points="96.4,220.1 97.6,220.8 98.8,221.5 100.0,222.1 101.0,222.8 102.1,223.6 103.2,224.4 104.3,225.2 105.4,225.9 106.5,226.7 107.7,227.5 108.8,228.2 109.9,229.0 111.1,229.7 112.2,230.4 113.4,231.1 114.6,231.7 115.7,232.4 117.0,233.1 118.3,233.7 119.5,234.2 120.7,234.8 121.9,235.4 123.2,235.9 124.4,236.5 125.6,237.0 126.6,237.5 127.8,238.1 129.0,238.8 130.2,239.4 131.3,240.1 132.5,240.7 133.7,241.4 135.0,242.1 136.3,242.7 137.5,243.2 138.8,243.7 140.0,244.3 141.2,244.9 142.5,245.4 143.7,246.0 144.9,246.6 146.0,247.3 147.2,247.9 148.4,248.6 149.5,249.3 150.7,250.0 151.8,250.7 153.0,251.4 154.1,252.2 155.3,253.0 156.5,253.6 157.6,254.3 158.8,255.1 159.9,255.8 160.9,256.5 161.9,257.3" stroke="#00b532"/>
<polyline points="161.9,257.3 162.9,258.2 163.9,259.2 164.9,260.1 165.9,261.0" stroke="#e3ff00"/>
<polyline points="87.3,218.6 88.7,218.7 90.1,218.7 91.4,218.8 92.8,218.9 94.2,219.0 95.1,219.7 96.3,220.4 97.5,221.1 98.6,221.9 99.8,222.6 100.7,223.3 101.8,224.2 102.8,225.1 103.9,226.0 104.9,226.8 106.0,227.7 107.0,228.6 108.1,229.5 109.2,230.4 110.2,231.2 111.3,232.1 112.4,232.9 113.5,233.8 114.6,234.6 115.9,235.4 117.0,236.2 118.1,236.9 119.3,237.7 120.4,238.4 121.6,239.1 122.7,239.8 123.9,240.4 124.4,240.8 125.5,241.6 126.6,242.4 127.7,243.1 128.8,243.9 129.9,244.6 131.1,245.4 132.7,246.4 133.9,247.0 135.1,247.6 136.3,248.2 137.6,248.8 138.8,249.4 140.0,250.0 141.2,250.6 142.2,251.1 143.3,251.8 144.5,252.4 145.7,253.1 146.9,253.8 148.0,254.4 149.2,255.1 150.4,255.8 151.5,256.5 153.0,257.4 154.2,258.1 155.4,258.8" stroke="#00b532"/>
<polyline points="155.4,258.8 156.5,259.4 157.7,260.1 158.1,260.4 159.1,261.3 160.2,262.2 161.2,263.1 162.2,264.0" stroke="#e3ff00"/>
<polyline points="83.3,220.2 84.6,220.0 86.0,219.9 87.4,219.6 88.7,219.2 90.1,218.9 91.4,218.5 92.7,218.1 94.0,217.7 95.8,218.0 97.2,218.2 98.5,218.5 99.9,218.7 101.2,219.0 102.8,219.4 104.1,219.9 105.4,220.3 106.7,220.8 108.0,221.2 109.3,221.7 110.6,222.2 111.8,222.6 113.1,223.1 114.4,223.6 115.6,224.2 116.9,224.7 118.1,225.2 119.3,225.8 120.4,226.3 121.7,226.8 122.9,227.4 124.1,227.9 125.4,228.5 126.6,229.1 127.8,229.7 129.0,230.3 130.6,231.4 131.7,232.1 132.8,232.9 133.9,233.7 135.0,234.5 136.1,235.3 137.2,236.1 138.0,236.7 139.1,237.4 140.3,238.1 141.4,238.8 142.6,239.5 143.8,240.1 144.9,240.8 146.1,241.5 147.5,242.2 148.6,242.9 149.8,243.6 150.9,244.3 152.1,245.0" stroke="#00b532"/>
<polyline points="152.1,245.0 153.3,245.6 154.5,246.3 155.7,246.9 156.9,247.5 157.8,248.0 159.1,248.5 160.3,249.0 161.6,249.5 162.9,250.0" stroke="#e3ff00"/>
<polyline points="102.0,216.9 103.9,217.6 105.1,218.2 106.3,218.8 107.5,219.4" stroke="#00b532"/>
<polyline points="107.5,219.4 108.7,220.0" stroke="#00b5b5"/>
<polyline points="108.7,220.0 109.9,220.6 111.1,221.2 112.3,221.8 113.5,222.4 114.7,223.0 115.9,223.6 117.1,224.3 118.3,224.9 119.5,225.5 120.6,226.0 121.8,226.5 123.0,227.1 124.3,227.7 125.5,228.2 126.8,228.7 128.0,229.3 129.3,229.8 131.1,230.7 132.2,231.4 133.4,232.0 134.6,232.7 135.9,233.3 137.1,233.9 138.3,234.5 139.0,234.8 140.3,235.2 141.5,235.7 142.8,236.2 144.1,236.6 145.4,237.1 146.7,237.5 148.0,237.9 149.6,238.6" stroke="#00b532"/>
<polyline points="149.6,238.6 150.9,239.1 152.2,239.6 153.5,240.1 154.8,240.5 156.1,241.0 157.3,241.5 158.6,242.0 159.9,242.5 160.5,242.7 161.8,243.1 163.1,243.6 164.4,244.0 165.7,244.5 168.3,245.8" stroke="#e3ff00"/>
<polyline points="107.0,223.1 108.3,223.6 109.5,224.1 110.8,224.6 112.1,225.0 113.3,225.5 114.6,226.0 115.9,226.5 117.2,227.0 118.4,227.5 119.6,227.9 120.9,228.3 122.2,228.8 123.5,229.2 124.8,229.7 126.0,230.2 127.3,230.6 128.6,231.1 130.2,232.0 131.4,232.6 132.6,233.3 133.8,234.0 134.9,234.7 136.1,235.4 137.2,236.1 138.0,236.6 139.2,237.2" stroke="#00b532"/>
<polyline points="139.2,237.2 140.4,237.9 141.6,238.5 142.8,239.2 143.9,239.8 145.1,240.5 146.3,241.2 147.6,242.0 148.8,242.7 149.9,243.4 151.0,244.2 152.1,244.9 153.3,245.7 154.4,246.4 155.5,247.2 156.6,247.9 157.5,248.6 158.7,249.2 159.9,249.9 161.1,250.5 162.3,251.2 163.9,252.1 164.9,253.0 166.0,253.8 167.1,254.6 168.2,255.4 169.3,256.2 170.4,257.0" stroke="#e3ff00"/>
<polyline points="170.4,257.0 171.5,257.8" stroke="#00b5b5"/>
<polyline points="171.5,257.8 172.9,258.8 173.9,259.7 174.9,260.5 176.0,261.4 177.0,262.2 178.1,263.1 179.2,263.9 180.2,264.7 180.0,264.8 181.3,265.1 182.7,265.5 184.0,265.8" stroke="#e3ff00"/>
<polyline points="184.0,265.8 185.3,266.2" stroke="#00b5b5"/>
<polyline points="185.3,266.2 186.6,266.5 187.9,266.8" stroke="#e3ff00"/>
<polyline points="187.9,266.8 189.2,267.2" stroke="#00b5b5"/>
<polyline points="189.2,267.2" stroke="#e3ff00"/>
<polyline points="93.9,215.8 96.5,216.3 97.8,216.7 99.1,217.0 100.4,217.5" stroke="#00b532"/>
<polyline points="100.4,217.5 101.7,217.9" stroke="#00b5b5"/>
<polyline points="101.7,217.9 103.3,218.5 104.5,219.2 105.7,219.8 106.9,220.4 108.1,221.0 109.3,221.7 110.5,222.3 111.6,223.0 112.8,223.6 114.0,224.3 115.2,225.0 116.3,225.6 117.5,226.3 118.7,227.0 119.8,227.6 121.0,228.2 122.2,228.8 123.4,229.4 124.6,230.0" stroke="#00b532"/>
<polyline points="124.6,230.0 125.8,230.6" stroke="#00b5b5"/>
<polyline points="125.8,230.6 127.0,231.2 128.2,231.8 129.7,232.7 130.9,233.4 132.0,234.1 133.2,234.8 134.4,235.5 135.5,236.2 136.7,236.9 137.6,237.4 138.8,237.9 140.1,238.4 141.3,239.0 142.6,239.5 143.8,240.0 145.1,240.5 146.4,241.0 147.8,241.6 149.1,242.1 150.4,242.7 151.6,243.2 152.9,243.7" stroke="#00b532"/>
<polyline points="152.9,243.7 154.1,244.3 155.4,244.8 156.6,245.3 157.9,245.8 158.8,246.2 160.0,246.6 161.3,247.1 162.6,247.5 163.9,248.0 166.0,249.0 167.2,249.8 168.3,250.5 169.5,251.2 170.6,251.9 171.7,252.7 172.8,253.4" stroke="#e3ff00"/>
<polyline points="172.8,253.4" stroke="#00b5b5"/>
<polyline points="98.9,217.5 100.2,217.9 101.5,218.3 103.1,218.9 104.3,219.5 105.5,220.1 106.7,220.7 107.9,221.4 109.1,222.0 110.3,222.6 111.5,223.3 112.7,223.9 113.8,224.6 115.0,225.3 116.2,226.0 117.3,226.6 118.5,227.3 119.6,227.9 120.8,228.6 122.0,229.2 123.2,229.9 124.3,230.5 125.5,231.2 126.7,231.8 127.9,232.5 129.3,233.3 130.4,234.1" stroke="#00b532"/>
<polyline points="130.4,234.1 131.6,234.9 132.7,235.6 133.8,236.4 134.9,237.1 136.1,237.9" stroke="#e3ff00"/>
<polyline points="136.1,237.9 137.0,238.4" stroke="#00b5b5"/>
<polyline points="137.0,238.4 138.2,239.1 139.4,239.6 140.7,240.2 141.9,240.8 143.1,241.4 144.3,241.9 145.6,242.5 147.0,243.1 148.2,243.7 149.4,244.2 150.6,244.8 151.9,245.4 153.1,245.9 154.4,246.5 155.6,247.0 156.9,247.6 157.8,248.0 159.1,248.4 160.4,248.9 161.7,249.3 163.0,249.8 164.9,250.7 166.0,251.4 167.2,252.1 168.4,252.8 169.5,253.5 170.7,254.2 171.8,254.9" stroke="#e3ff00"/>
<polyline points="93.9,215.9 96.4,216.4 97.7,216.8 99.0,217.2 100.3,217.6 101.6,218.1 103.2,218.7 104.4,219.4" stroke="#00b532"/>
<polyline points="104.4,219.4 105.6,220.0" stroke="#00b5b5"/>
<polyline points="105.6,220.0 106.8,220.7 108.0,221.3 109.1,222.0 110.3,222.6 111.5,223.3" stroke="#00b532"/>
<polyline points="111.5,223.3 112.6,224.0" stroke="#00b5b5"/>
<polyline points="112.6,224.0 113.8,224.6 115.0,225.3 116.2,226.0 117.3,226.7 118.5,227.3 119.6,227.9 120.8,228.5 122.0,229.1 123.2,229.7 124.4,230.3 125.7,230.9 126.9,231.5 128.1,232.1 129.6,233.0 130.7,233.7 131.9,234.3 133.1,235.0 134.2,235.7 135.4,236.4" stroke="#00b532"/>
<polyline points="135.4,236.4 136.6,237.0" stroke="#00b5b5"/>
<polyline points="136.6,237.0 137.5,237.5 138.8,238.0 140.0,238.5 141.3,239.0 142.6,239.5 143.8,240.0 145.1,240.5 146.4,241.0 147.8,241.6 149.1,242.1 150.3,242.7 151.6,243.2 152.9,243.7 154.1,244.3 155.4,244.8 156.6,245.3 157.9,245.9 158.7,246.2 160.0,246.7 161.3,247.1 162.6,247.6 163.8,248.1" stroke="#e3ff00"/>
<polyline points="100.7,220.4 102.0,220.9 103.3,221.4 104.5,222.0 105.8,222.5 107.0,223.0 108.3,223.6 109.5,224.1 110.8,224.6 112.1,225.0 113.3,225.5 114.6,226.0 115.9,226.5 117.2,227.0 118.4,227.4 119.7,227.8 121.0,228.3 122.2,228.7 123.5,229.1 124.8,229.6 126.1,230.0 127.4,230.5 128.7,230.9 130.4,231.7 131.6,232.4 132.8,233.0 134.0,233.6 135.2,234.3 136.4,234.9 137.6,235.6 138.3,236.0 139.5,236.6 140.7,237.2 142.0,237.8" stroke="#00b532"/>
<polyline points="142.0,237.8 143.2,238.4" stroke="#00b5b5"/>
<polyline points="143.2,238.4 144.4,239.0 145.6,239.7 146.7,240.3 148.1,241.1 149.3,241.8 150.4,242.5 151.6,243.2 152.7,244.0 153.9,244.7 155.0,245.5 156.1,246.2 157.2,246.9 158.1,247.5 159.2,248.2 160.4,248.8 161.6,249.5 162.8,250.2 164.5,251.2 165.6,252.1 166.6,252.9 167.7,253.8 168.7,254.6 169.8,255.4" stroke="#e3ff00"/>
<polyline points="169.8,255.4 170.9,256.2" stroke="#00b5b5"/>
<polyline points="170.9,256.2 172.0,257.0 173.4,258.2" stroke="#e3ff00"/>
<polyline points="173.4,258.2 174.4,259.1" stroke="#00b5b5"/>
<polyline points="174.4,259.1 175.4,260.0 176.4,260.9 177.5,261.8 178.5,262.6 179.5,263.5" stroke="#e3ff00"/>
<polyline points="98.2,219.2 99.5,219.5 100.9,219.9 102.4,220.3 103.6,220.8 104.9,221.3 106.2,221.7 107.5,222.2 108.7,222.7 110.0,223.2 111.2,223.7 112.5,224.2 113.8,224.7 115.0,225.2 116.3,225.8 117.5,226.3 118.8,226.8 119.9,227.3 121.2,227.8" stroke="#00b532"/>
<polyline points="121.2,227.8 122.4,228.4" stroke="#00b5b5"/>
<polyline points="122.4,228.4 123.7,228.9 124.9,229.5 126.1,230.0 127.3,230.6 128.5,231.2 130.1,232.1 131.3,232.9 132.4,233.6 133.5,234.4 134.6,235.2 135.7,236.0 136.8,236.8 137.6,237.4 138.8,238.1 139.9,238.7 141.1,239.4 142.2,240.1 143.4,240.8 144.5,241.5 145.7,242.2" stroke="#00b532"/>
<polyline points="145.7,242.2 147.0,243.0 148.1,243.8 149.3,244.5 150.4,245.2 151.5,246.0 152.7,246.7 153.8,247.4 155.0,248.1 156.2,248.8 157.1,249.3 158.3,249.9 159.6,250.5 160.8,251.1 162.0,251.6 163.6,252.5 164.8,253.2 165.9,254.0 167.0,254.7 168.2,255.4 169.3,256.1 170.5,256.8 171.7,257.5 173.1,258.5 174.2,259.3 175.3,260.1 176.4,260.9 177.5,261.7 178.6,262.5" stroke="#e3ff00"/>
<polyline points="104.5,222.0 105.7,222.6 106.9,223.3 108.1,223.9 109.3,224.5 110.5,225.1 111.7,225.7 112.9,226.3 114.2,226.8 115.4,227.4 116.6,227.9 117.9,228.5 119.1,228.9 120.4,229.4 121.6,229.9 122.9,230.3" stroke="#00b532"/>
<polyline points="122.9,230.3 124.2,230.8" stroke="#00b5b5"/>
<polyline points="124.2,230.8 125.5,231.3 126.8,231.7 128.1,232.2 129.6,232.9 130.9,233.5 132.1,234.1 133.3,234.7 134.5,235.3 135.8,235.9 137.0,236.5 137.9,236.9 139.1,237.4 140.4,237.9 141.7,238.4 142.9,238.9 144.2,239.4 145.4,239.9" stroke="#00b532"/>
<polyline points="145.4,239.9 146.6,240.5 148.1,241.2 149.3,241.8 150.5,242.4 151.7,243.1 152.9,243.7 154.0,244.4 155.2,245.1 156.4,245.8 157.5,246.5" stroke="#e3ff00"/>
<polyline points="103.4,221.2 104.7,221.7" stroke="#00b532"/>
<polyline points="104.7,221.7 105.9,222.2" stroke="#00b5b5"/>
<polyline points="105.9,222.2 107.2,222.7 108.5,223.2 109.7,223.7 111.0,224.2 112.3,224.7 113.5,225.2 114.8,225.7 116.0,226.2 117.3,226.7 118.6,227.2 119.7,227.7 121.0,228.2 122.2,228.7 123.5,229.2 124.7,229.8 126.0,230.3 127.2,230.9 128.4,231.5 130.0,232.4 131.1,233.1 132.2,233.9 133.3,234.6 134.5,235.4 135.6,236.2 136.7,236.9 137.5,237.5 138.7,238.2" stroke="#00b532"/>
<polyline points="138.7,238.2 139.8,238.9 141.0,239.6 142.1,240.3 143.3,241.0 144.4,241.7 145.6,242.4 146.9,243.2 148.0,244.0 149.1,244.7 150.2,245.5 151.4,246.2 152.5,247.0 153.6,247.7 154.8,248.4 155.9,249.1 156.9,249.8 158.1,250.4 159.3,251.0 160.5,251.6 161.8,252.2 163.3,253.0 164.4,253.8 165.5,254.5 166.6,255.3 167.8,256.0 168.9,256.7 170.0,257.5 171.2,258.2 172.6,259.1 173.6,260.0 174.7,260.8 175.8,261.6 176.9,262.4 178.0,263.2 179.1,264.0 180.2,264.8 180.0,264.8 181.3,265.1 182.7,265.5" stroke="#e3ff00"/>
<polyline points="91.2,216.5 92.6,216.2 93.9,216.1 96.4,216.6 97.6,217.0 98.9,217.4 100.2,217.9 101.5,218.3 103.1,219.0 104.3,219.6 105.5,220.2 106.7,220.7 108.0,221.3 109.2,221.9 110.4,222.5 111.6,223.0 112.9,223.6 114.1,224.1 115.4,224.6 116.6,225.1 117.9,225.7 119.1,226.2 120.3,226.5 121.6,227.0 122.9,227.4 124.2,227.8 125.5,228.2 126.8,228.7 128.1,229.1 129.4,229.5 131.3,230.3 132.6,230.9 133.8,231.4" stroke="#00b532"/>
<polyline points="133.8,231.4 135.1,232.0" stroke="#00b5b5"/>
<polyline points="135.1,232.0 136.4,232.5 137.6,233.1 138.9,233.6 139.5,233.8 140.8,234.2 142.1,234.6 143.4,235.1 144.7,235.5 146.0,236.0 147.3,236.5 148.6,236.9" stroke="#00b532"/>
<polyline points="148.6,236.9 150.2,237.7 151.4,238.2 152.7,238.8 153.9,239.3 155.1,239.9 156.4,240.5 157.6,241.1 158.8,241.7 160.0,242.4 160.5,242.7 161.8,243.2 163.0,243.8 164.2,244.4 165.4,245.0 167.9,246.4 168.9,247.2 170.0,248.1 171.0,249.0 172.1,249.8 173.1,250.7" stroke="#e3ff00"/>
<polyline points="173.1,250.7 174.2,251.6" stroke="#00b5b5"/>
<polyline points="174.2,251.6 175.2,252.4 177.0,254.0 178.0,255.0 178.9,256.0" stroke="#e3ff00"/>
<polyline points="178.9,256.0 179.9,256.9" stroke="#00b5b5"/>
<polyline points="179.9,256.9 180.8,257.9 181.8,258.9 182.7,259.8" stroke="#e3ff00"/>
<polyline points="361.0,348.5 378.6,352.9 390.0,356.3 402.9,361.4 417.1,367.9 431.4,375.7 442.9,382.9 452.9,390.0 460.0,394.3 478.6,400.9 503.7,410.3 525.7,418.1 550.8,426.0 564.0,430.0 580.0,438.0 602.0,447.0" stroke="#e3ff00"/>
<polyline points="330.0,345.0 345.0,352.0 360.0,358.6 374.3,364.3 388.6,370.0 402.9,375.0 417.1,379.3 427.1,382.9" stroke="#ff1400"/>
<polyline points="427.1,382.9 438.6,387.1 452.9,392.9 460.0,395.0 481.7,404.0 503.7,408.7 532.0,410.3 557.1,409.7 582.3,408.7" stroke="#ff6e00"/>
<polyline points="330.0,340.0 345.0,349.0 361.4,354.0 384.3,357.1 391.4,364.3 398.6,372.9 407.1,382.9 412.9,391.4 415.7,397.1 418.6,404.3 421.4,411.4 424.3,418.6" stroke="#ff6e00"/>
<polyline points="355.0,365.0 368.6,372.1 381.4,375.7 395.7,379.3 407.1,384.3 417.1,391.4 430.0,398.6 442.9,397.9" stroke="#e3ff00"/>
<polyline points="442.9,397.9 454.3,406.4 464.3,413.6 472.9,420.7 481.4,429.3 490.0,433.6 512.0,443.0 554.0,452.0 580.0,447.0" stroke="#00b532"/>
<polyline points="414.3,388.6 431.4,392.1 445.7,395.0 460.0,398.6 480.0,403.0 500.0,406.0" stroke="#ff6e00"/>
<polyline points="345.0,360.0 360.0,362.9 368.6,370.7 381.4,382.9 391.4,390.0 402.9,400.0 417.1,408.6 425.7,423.6" stroke="#ff6e00"/>
<polyline points="425.7,423.6 447.1,436.4 468.6,447.9 490.0,457.9 500.0,464.0 520.0,473.0 540.0,483.0 556.0,490.0 562.0,496.0 568.0,502.0" stroke="#ff6e00"/>
<polyline points="370.0,380.0 395.7,390.0 410.0,400.0 424.3,410.0 435.7,417.1" stroke="#ff1400"/>
<polyline points="380.0,390.0 404.3,399.3 418.6,409.3 437.1,419.3" stroke="#ff1400"/>
<polyline points="408.0,380.0 415.0,395.0 418.6,405.0 424.3,417.9" stroke="#ff6e00"/>
<polyline points="425.7,422.1 444.3,422.9 461.4,426.4 475.7,430.7 480.0,433.0 490.0,437.0 506.0,450.0" stroke="#780000"/>
<polyline points="424.0,424.0 431.4,427.9 447.1,432.9 461.4,437.9 475.7,442.1 480.0,444.0 500.0,450.0" stroke="#780000"/>
<polyline points="500.0,450.0 520.0,457.0 542.0,464.0 560.0,476.0 580.0,488.0 598.0,500.0" stroke="#ff1400"/>
<polyline points="422.9,422.1 440.0,437.9 454.3,447.9 464.3,453.6 475.7,459.3 480.0,460.0 510.0,473.0 534.0,485.0 552.0,493.0 572.0,500.0" stroke="#ff1400"/>
<polyline points="572.0,500.0 586.0,510.0 602.0,522.0" stroke="#ff6e00"/>
<polyline points="424.3,425.0 440.0,439.3 454.3,450.7 468.6,460.7 482.9,469.3 500.0,480.0 515.0,491.0" stroke="#ff6e00"/>
<polyline points="205.0,285.0 215.0,285.5 225.0,286.5 235.0,287.5 245.0,289.5 255.0,292.5 265.0,296.5" stroke="#780000"/>
<polyline points="265.0,296.5 272.0,299.5 279.0,303.0 285.0,305.0 297.0,310.0 310.0,316.3 321.4,319.1 332.9,322.6 344.3,326.0" stroke="#e1005a"/>
<polyline points="344.3,326.0 350.0,326.6" stroke="#ff6e00"/>
<polyline points="350.0,326.6 353.4,330.0 352.9,335.7" stroke="#e3ff00"/>
<polyline points="352.9,335.7 351.1,338.0 355.7,343.7 352.3,346.0 353.4,351.7 354.6,358.6 349.7,360.3" stroke="#00b532"/>
<polyline points="260.0,305.0 280.0,315.7 302.9,318.0 321.4,320.9 332.9,325.4 344.3,332.3 350.0,335.7 344.3,341.4 339.7,346.0" stroke="#e3ff00"/>
<polyline points="339.7,346.0 341.7,347.7 348.6,346.6 354.3,344.3 358.9,342.0" stroke="#00b532"/>
<polyline points="260.0,306.0 290.0,313.0 310.0,319.7 332.9,324.3 350.0,328.9 361.4,335.7 372.9,343.7 384.3,349.4 396.3,358.3" stroke="#780000"/>
<polyline points="262.0,303.0 290.0,312.0 310.0,320.9 332.9,327.0" stroke="#ff1400"/>
<polyline points="270.0,310.0 290.0,318.0 310.0,327.7 332.9,335.7 344.3,340.3 355.7,346.0 367.1,348.3 378.6,351.7 390.0,355.1" stroke="#ff1400"/>
<polyline points="300.0,330.0 332.9,340.3 350.0,346.0 361.4,348.3" stroke="#ff6e00"/>
<polyline points="205.0,306.0 225.0,316.0 240.0,325.0 250.0,333.0 258.0,345.0 263.0,355.0 266.0,362.0" stroke="#780000"/>
<polyline points="266.0,362.0 270.7,374.3 277.5,390.6 281.0,404.1 281.6,417.7 280.2,431.3 276.1,444.9 272.1,453.0" stroke="#ff1400"/>
<polyline points="272.1,453.0 268.0,459.8 269.4,465.2 272.1,469.3" stroke="#780000"/>
<polyline points="260.0,325.0 275.0,333.0 284.3,341.7" stroke="#ff1400"/>
<polyline points="284.3,341.7 293.7,347.7 300.6,355.3 311.4,371.6" stroke="#ff6e00"/>
<polyline points="311.4,371.6 319.6,382.4 326.4,393.3 327.7,401.4" stroke="#e3ff00"/>
<polyline points="327.7,401.4 329.1,412.3" stroke="#00b532"/>
<polyline points="280.0,325.0 297.1,336.3 308.6,343.1 316.6,350.0 322.3,358.0 328.0,368.3 333.1,374.3" stroke="#ff1400"/>
<polyline points="333.1,374.3 344.0,387.9 352.1,398.7" stroke="#ff6e00"/>
<polyline points="352.1,398.7 363.0,415.0 371.1,431.3" stroke="#ff1400"/>
<polyline points="371.1,431.3 380.7,447.6" stroke="#ff6e00"/>
<polyline points="380.7,447.6 389.8,463.9 397.0,477.4 407.8,489.7" stroke="#ff1400"/>
<polyline points="344.0,366.1 345.4,375.0 346.0,381.0 342.0,385.0 346.7,392.0 349.4,396.0" stroke="#00b5b5"/>
<polyline points="240.0,300.0 260.0,310.0 284.6,339.7" stroke="#ff1400"/>
<polyline points="284.6,339.7 293.7,347.7 302.9,358.0 309.7,369.4" stroke="#ff6e00"/>
<polyline points="69.0,218.0 78.0,219.5" stroke="#00b5b5"/>
<polyline points="78.0,219.5 86.0,221.5 95.0,224.5 104.0,228.5 116.0,235.0 125.0,239.3 134.0,245.0 145.0,251.0 155.0,256.0" stroke="#00b532"/>
<polyline points="155.0,256.0 165.0,261.0 180.0,268.0" stroke="#e3ff00"/>
<polyline points="75.0,217.5 86.0,216.5 99.3,216.1 116.4,215.3 125.0,217.9 128.6,223.6 141.4,228.6 155.7,229.3 165.7,233.6 180.0,240.7 194.3,249.3 205.7,256.4 220.0,265.0" stroke="#00b532"/>
<polyline points="220.0,265.0 228.0,273.0 236.0,284.0 243.0,294.0" stroke="#e3ff00"/>
<polyline points="80.0,214.0 100.0,213.6 116.4,214.0 125.0,216.0 135.0,221.0 145.0,227.0 155.0,231.0" stroke="#00b532"/>
<polyline points="140.0,228.0 148.6,235.0 162.9,240.0" stroke="#00b5b5"/>
<polyline points="72.0,219.0 86.4,223.0 99.3,225.6 112.1,230.7 125.0,237.6 134.3,244.0 148.6,250.0" stroke="#00b532"/>
<polyline points="148.6,250.0 160.0,255.0" stroke="#e3ff00"/>
<polyline points="90.0,226.0 103.6,229.0 116.4,235.0 125.0,239.3 134.3,250.7" stroke="#00b532"/>
<polyline points="134.3,250.7 148.6,257.9 155.7,262.1 148.6,265.0 134.3,262.1 125.0,258.0" stroke="#e3ff00"/>
<polyline points="85.0,220.0 100.0,222.0 120.0,223.6 134.3,229.3 148.6,239.3 155.7,243.6" stroke="#00b532"/>
<polyline points="155.7,243.6 168.0,250.0 180.0,258.0" stroke="#e3ff00"/>
<polyline points="155.7,232.1 177.1,238.6 188.6,245.0 198.6,252.1 211.4,262.1 220.0,269.3 232.0,280.0" stroke="#e3ff00"/>
<polyline points="150.0,233.0 165.7,235.0 178.6,240.0" stroke="#e3ff00"/>
<polyline points="178.6,240.0 191.4,246.4 195.7,250.0 205.0,256.0 215.0,262.0" stroke="#00b532"/>
<polyline points="215.0,262.0 230.0,272.0" stroke="#e3ff00"/>
<polyline points="170.0,244.0 182.0,250.0 195.7,259.1 209.4,267.1 218.6,274.0 230.0,282.0" stroke="#e3ff00"/>
<polyline points="190.0,265.0 202.6,269.4 214.0,269.4 218.6,270.6 232.0,276.0" stroke="#e3ff00"/>
<polyline points="110.0,234.0 130.0,244.0 145.0,255.0 154.6,263.7 160.3,272.9" stroke="#00b532"/>
<polyline points="160.3,272.9 172.9,283.1 180.9,292.3" stroke="#e3ff00"/>
<polyline points="120.0,243.6 134.3,250.7 150.0,263.7 160.3,279.7 170.6,283.1 178.6,286.6 186.0,292.0" stroke="#e3ff00"/>
<polyline points="130.0,238.0 145.0,248.0 150.0,259.1" stroke="#e3ff00"/>
<polyline points="150.0,259.1 161.4,263.7 172.9,270.0 179.7,274.0 190.0,280.0" stroke="#ff6e00"/>
<polyline points="175.0,290.0 186.6,298.0 198.0,304.9 204.9,308.3 215.0,312.0" stroke="#ff6e00"/>
<polyline points="140.0,250.0 155.0,262.0 168.0,276.0 176.0,290.0" stroke="#00b532"/>
<polyline points="176.0,290.0 186.0,296.0 200.0,302.0" stroke="#ff6e00"/>
<polyline points="200.0,300.0 215.0,308.0 240.0,318.0 265.0,328.0 290.0,336.0 310.0,345.0" stroke="#ff1400"/>
<polyline points="278.0,326.0 282.0,334.0 286.0,343.0 290.0,349.0" stroke="#00b532"/>
<polyline points="82.0,219.0 86.4,219.3 94.3,218.6 101.4,221.4 107.9,225.0 117.1,230.0 127.1,235.0 135.7,240.7 145.0,245.7 155.7,252.1 161.4,255.0 170.0,261.0 178.6,268.5 187.7,271.7 198.0,275.1 207.1,280.9 214.0,287.7 224.3,294.6 230.0,298.0 241.1,306.6 259.4,314.6 275.4,320.3 284.6,322.6 297.1,329.4 308.6,335.1 320.0,340.9 331.4,347.7 342.9,356.9 350.9,362.6 360.0,369.4 367.1,377.1 381.4,391.4 391.4,401.4 402.9,410.3 411.4,414.2 418.6,417.0 425.0,422.9" stroke="#000" stroke-width="4.6"/><circle cx="86.4" cy="219.3" r="4" fill="#000"/><circle cx="107.9" cy="225" r="4" fill="#000"/><circle cx="145" cy="245.7" r="4" fill="#000"/><circle cx="178.6" cy="268.5" r="4" fill="#000"/><circle cx="207.1" cy="280.9" r="4" fill="#000"/><circle cx="230" cy="298" r="4" fill="#000"/><circle cx="284.6" cy="322.6" r="4" fill="#000"/><circle cx="342.9" cy="356.9" r="4" fill="#000"/><circle cx="391.4" cy="401.4" r="4" fill="#000"/><circle cx="418.6" cy="416.4" r="4" fill="#000"/>
</g>
<g id="labels" class="sl">
<text x="78.6" y="222.1" text-anchor="middle">48</text>
<text x="80.0" y="227.8" text-anchor="middle">24</text>
<text x="85.7" y="228.5" text-anchor="middle">24</text>
<text x="92.9" y="225.7" text-anchor="middle">24</text>
<text x="107.1" y="221.4" text-anchor="middle">24</text>
<text x="119.3" y="221.4" text-anchor="middle">24</text>
<text x="122.9" y="224.9" text-anchor="middle">24</text>
<text x="101.4" y="233.5" text-anchor="middle">24</text>
<text x="102.9" y="236.4" text-anchor="middle">24</text>
<text x="116.4" y="238.5" text-anchor="middle">24</text>
<text x="135.7" y="233.5" text-anchor="middle">48</text>
<text x="140.0" y="236.4" text-anchor="middle">48</text>
<text x="145.7" y="237.8" text-anchor="middle">48</text>
<text x="152.9" y="234.2" text-anchor="middle">48</text>
<text x="127.1" y="246.4" text-anchor="middle">48</text>
<text x="128.6" y="253.5" text-anchor="middle">48</text>
<text x="141.4" y="253.5" text-anchor="middle">48</text>
<text x="148.6" y="254.9" text-anchor="middle">48</text>
<text x="154.3" y="247.8" text-anchor="middle">48</text>
<text x="146.9" y="236.9" text-anchor="middle">48</text>
<text x="162.9" y="236.4" text-anchor="middle">48</text>
<text x="153.7" y="248.4" text-anchor="middle">48</text>
<text x="166.3" y="252.4" text-anchor="middle">48</text>
<text x="170.0" y="252.8" text-anchor="middle">72</text>
<text x="156.0" y="272.4" text-anchor="middle">48</text>
<text x="168.6" y="279.2" text-anchor="middle">120</text>
<text x="218.0" y="273.7" text-anchor="middle">72</text>
<text x="231.7" y="274.2" text-anchor="middle">240</text>
<text x="219.1" y="281.1" text-anchor="middle">96</text>
<text x="236.3" y="289.1" text-anchor="middle">144</text>
<text x="238.6" y="295.9" text-anchor="middle">120</text>
<text x="196.3" y="308.5" text-anchor="middle">144</text>
<text x="215.7" y="310.8" text-anchor="middle">144</text>
<text x="184.9" y="297.1" text-anchor="middle">120</text>
<text x="200.0" y="283.8" text-anchor="middle">96</text>
<text x="210.0" y="289.8" text-anchor="middle">120</text>
<text x="190.0" y="289.8" text-anchor="middle">96</text>
<text x="225.0" y="298.8" text-anchor="middle">120</text>
<text x="205.0" y="300.8" text-anchor="middle">144</text>
<text x="222.0" y="284.8" text-anchor="middle">120</text>
<text x="228.0" y="291.8" text-anchor="middle">96</text>
<text x="247.0" y="299.8" text-anchor="middle">168</text>
<text x="256.0" y="307.8" text-anchor="middle">144</text>
<text x="247.0" y="312.8" text-anchor="middle">168</text>
<text x="243.0" y="321.7" text-anchor="middle">192</text>
<text x="262.0" y="323.8" text-anchor="middle">168</text>
<text x="262.0" y="304.5" text-anchor="middle">120</text>
<text x="294.0" y="307.9" text-anchor="middle">168</text>
<text x="303.1" y="326.2" text-anchor="middle">192</text>
<text x="262.6" y="351.3" text-anchor="middle">192</text>
<text x="291.1" y="352.7" text-anchor="middle">240</text>
<text x="301.9" y="358.1" text-anchor="middle">192</text>
<text x="322.3" y="354.0" text-anchor="middle">216</text>
<text x="346.7" y="377.1" text-anchor="middle">216</text>
<text x="346.7" y="398.8" text-anchor="middle">240</text>
<text x="353.5" y="401.5" text-anchor="middle">192</text>
<text x="325.0" y="405.6" text-anchor="middle">240</text>
<text x="329.1" y="411.0" text-anchor="middle">216</text>
<text x="281.6" y="415.1" text-anchor="middle">216</text>
<text x="272.1" y="470.7" text-anchor="middle">240</text>
<text x="395.6" y="478.9" text-anchor="middle">216</text>
<text x="325.0" y="340.4" text-anchor="middle">192</text>
<text x="349.4" y="326.9" text-anchor="middle">192</text>
<text x="371.1" y="345.9" text-anchor="middle">192</text>
<text x="377.9" y="355.4" text-anchor="middle">216</text>
<text x="368.4" y="366.2" text-anchor="middle">192</text>
<text x="380.7" y="366.2" text-anchor="middle">168</text>
<text x="340.0" y="338.8" text-anchor="middle">192</text>
<text x="350.0" y="332.8" text-anchor="middle">216</text>
<text x="403.1" y="405.9" text-anchor="middle">216</text>
<text x="412.3" y="412.8" text-anchor="middle">192</text>
<text x="437.4" y="420.8" text-anchor="middle">240</text>
<text x="460.3" y="395.7" text-anchor="middle">240</text>
<text x="475.1" y="400.2" text-anchor="middle">192</text>
<text x="474.0" y="404.8" text-anchor="middle">216</text>
<text x="469.4" y="420.8" text-anchor="middle">216</text>
<text x="461.3" y="439.8" text-anchor="middle">216</text>
<text x="508.4" y="453.9" text-anchor="middle">240</text>
<text x="497.4" y="470.6" text-anchor="middle">216</text>
<text x="511.6" y="472.8" text-anchor="middle">216</text>
<text x="516.3" y="493.2" text-anchor="middle">240</text>
<text x="587.6" y="410.9" text-anchor="middle">240</text>
<text x="576.0" y="435.1" text-anchor="middle">216</text>
<text x="582.9" y="448.6" text-anchor="middle">240</text>
<text x="600.5" y="503.3" text-anchor="middle">240</text>
<text x="430.0" y="422.8" text-anchor="middle">240</text>
<text x="396.0" y="391.8" text-anchor="middle">192</text>
<text x="271.4" y="318.1" text-anchor="middle">144</text>
<text x="294.8" y="338.0" text-anchor="middle">192</text>
<text x="271.5" y="333.7" text-anchor="middle">120</text>
<text x="304.3" y="337.1" text-anchor="middle">144</text>
<text x="278.0" y="315.7" text-anchor="middle">120</text>
<text x="195.6" y="276.2" text-anchor="middle">72</text>
<text x="231.0" y="305.4" text-anchor="middle">144</text>
<text x="219.9" y="284.1" text-anchor="middle">72</text>
<text x="238.9" y="304.1" text-anchor="middle">120</text>
<text x="198.3" y="287.3" text-anchor="middle">72</text>
<text x="196.6" y="282.4" text-anchor="middle">72</text>
<text x="199.8" y="272.1" text-anchor="middle">72</text>
<text x="203.3" y="291.2" text-anchor="middle">72</text>
<text x="312.1" y="333.7" text-anchor="middle">168</text>
<text x="206.0" y="286.6" text-anchor="middle">120</text>
<text x="273.0" y="317.5" text-anchor="middle">168</text>
<text x="199.4" y="293.3" text-anchor="middle">96</text>
<text x="226.3" y="288.5" text-anchor="middle">96</text>
<text x="197.4" y="291.2" text-anchor="middle">96</text>
<text x="188.2" y="272.9" text-anchor="middle">96</text>
<text x="268.1" y="311.0" text-anchor="middle">168</text>
<text x="284.9" y="323.9" text-anchor="middle">144</text>
<text x="225.0" y="308.3" text-anchor="middle">96</text>
<text x="283.7" y="323.1" text-anchor="middle">144</text>
<text x="243.8" y="317.7" text-anchor="middle">96</text>
<text x="207.9" y="301.4" text-anchor="middle">72</text>
<text x="291.0" y="327.6" text-anchor="middle">168</text>
<text x="179.0" y="274.7" text-anchor="middle">72</text>
<text x="231.2" y="300.8" text-anchor="middle">96</text>
<text x="245.9" y="302.8" text-anchor="middle">96</text>
<text x="266.2" y="332.6" text-anchor="middle">120</text>
<text x="194.2" y="284.7" text-anchor="middle">72</text>
<text x="227.3" y="301.8" text-anchor="middle">120</text>
<text x="210.4" y="297.8" text-anchor="middle">72</text>
<text x="262.6" y="326.5" text-anchor="middle">144</text>
<text x="309.6" y="335.6" text-anchor="middle">168</text>
<text x="192.9" y="271.6" text-anchor="middle">96</text>
<text x="269.3" y="319.8" text-anchor="middle">120</text>
<text x="228.8" y="296.7" text-anchor="middle">120</text>
<text x="260.3" y="310.2" text-anchor="middle">144</text>
<text x="225.1" y="295.2" text-anchor="middle">72</text>
<text x="273.4" y="316.3" text-anchor="middle">168</text>
<text x="215.5" y="307.1" text-anchor="middle">72</text>
<text x="290.7" y="319.7" text-anchor="middle">168</text>
<text x="251.8" y="326.4" text-anchor="middle">96</text>
<text x="207.7" y="294.5" text-anchor="middle">96</text>
</g>
<g id="boxes">
<rect x="58.2" y="200.6" width="58.1" height="14.4" rx="1.5" fill="#fff" fill-opacity="0.6"/><text x="60.7" y="211.7" class="bl">1004mb</text>
<rect x="159.7" y="251.9" width="48.0" height="13.7" rx="1.5" fill="#fff" fill-opacity="0.6"/><text x="161.1" y="263.0" class="bl">991mb</text>
<rect x="174.3" y="275.4" width="18.8" height="14.2" rx="1.5" fill="#fff" fill-opacity="0.6"/><text x="176.1" y="286.6" class="bl">72</text>
<rect x="259.3" y="303.6" width="49.7" height="13.7" rx="1.5" fill="#fff" fill-opacity="0.6"/><text x="261.5" y="314.7" class="bl">972mb</text>
<rect x="270.0" y="327.6" width="28.3" height="14.5" rx="1.5" fill="#fff" fill-opacity="0.6"/><text x="272.6" y="338.3" class="bl">168</text>
<rect x="366.5" y="382.5" width="49.0" height="14.0" rx="1.5" fill="#fff" fill-opacity="0.6"/><text x="368.2" y="393.5" class="bl">987mb</text>
<rect x="377.0" y="406.5" width="28.5" height="14.5" rx="1.5" fill="#fff" fill-opacity="0.6"/><text x="379.2" y="416.5" class="bl">216</text>
</g>
<rect x="49.5" y="77.3" width="574" height="573.7" fill="none" stroke="#111" stroke-width="1.2"/>
<!-- ticks -->
<g stroke="#222" stroke-width="0.9">
<line x1="45.5" y1="128.9" x2="49.5" y2="128.9"/>
<line x1="45.5" y1="229.6" x2="49.5" y2="229.6"/>
<line x1="45.5" y1="330.3" x2="49.5" y2="330.3"/>
<line x1="45.5" y1="431" x2="49.5" y2="431"/>
<line x1="45.5" y1="531.7" x2="49.5" y2="531.7"/>
<line x1="45.5" y1="632.4" x2="49.5" y2="632.4"/>
<line x1="49.5" y1="651" x2="49.5" y2="655"/>
<line x1="150.3" y1="651" x2="150.3" y2="655"/>
<line x1="251.1" y1="651" x2="251.1" y2="655"/>
<line x1="351.9" y1="651" x2="351.9" y2="655"/>
<line x1="452.7" y1="651" x2="452.7" y2="655"/>
<line x1="553.5" y1="651" x2="553.5" y2="655"/>
</g>
<g class="tk">
<text x="41" y="132.3" text-anchor="end">0°</text>
<text x="40.6" y="233" text-anchor="end">10°S</text>
<text x="40.6" y="333.7" text-anchor="end">20°S</text>
<text x="40.6" y="434.4" text-anchor="end">30°S</text>
<text x="40.6" y="535.1" text-anchor="end">40°S</text>
<text x="40.6" y="635.8" text-anchor="end">50°S</text>
<text x="49.5" y="666.7" text-anchor="middle">150°E</text>
<text x="150.3" y="666.7" text-anchor="middle">160°E</text>
<text x="251.1" y="666.7" text-anchor="middle">170°E</text>
<text x="350.6" y="666.7" text-anchor="middle">180°</text>
<text x="452.7" y="666.7" text-anchor="middle">170°W</text>
<text x="553.5" y="666.7" text-anchor="middle">160°W</text>
</g>
<!-- colorbar -->
<g stroke="none">
<polygon points="630.2,102.9 650.9,102.9 640.5,77.3" fill="#0b5cc0"/>
<rect x="630.2" y="102.9" width="20.7" height="58.1" fill="#00b5b5"/>
<rect x="630.2" y="161" width="20.7" height="58.1" fill="#00b532"/>
<rect x="630.2" y="219.1" width="20.7" height="58.1" fill="#e3ff00"/>
<rect x="630.2" y="277.2" width="20.7" height="58.1" fill="#ff6e00"/>
<rect x="630.2" y="335.3" width="20.7" height="58.1" fill="#ff1400"/>
<rect x="630.2" y="393.4" width="20.7" height="58.1" fill="#780000"/>
<rect x="630.2" y="451.5" width="20.7" height="58.1" fill="#e1005a"/>
<rect x="630.2" y="509.6" width="20.7" height="58.1" fill="#ff2dff"/>
<rect x="630.2" y="567.7" width="20.7" height="58.1" fill="#5a32ff"/>
<polygon points="630.2,625.4 650.9,625.4 640.5,651" fill="#141e8c"/>
</g>
<polygon points="640.5,77.3 650.9,102.9 650.9,625.4 640.5,651 630.2,625.4 630.2,102.9" fill="none" stroke="#222" stroke-width="1"/>
<g stroke="#222" stroke-width="0.9">
<line x1="650.9" y1="102.9" x2="655" y2="102.9"/>
<line x1="650.9" y1="161" x2="655" y2="161"/>
<line x1="650.9" y1="219.1" x2="655" y2="219.1"/>
<line x1="650.9" y1="277.2" x2="655" y2="277.2"/>
<line x1="650.9" y1="335.3" x2="655" y2="335.3"/>
<line x1="650.9" y1="393.4" x2="655" y2="393.4"/>
<line x1="650.9" y1="451.5" x2="655" y2="451.5"/>
<line x1="650.9" y1="509.6" x2="655" y2="509.6"/>
<line x1="650.9" y1="567.7" x2="655" y2="567.7"/>
<line x1="650.9" y1="625.4" x2="655" y2="625.4"/>
</g>
<g class="cb">
<text x="659.6" y="107.1">1010</text>
<text x="659.6" y="165.2">1005</text>
<text x="659.6" y="223.3">1000</text>
<text x="659.6" y="281.4">990</text>
<text x="659.6" y="339.5">980</text>
<text x="659.6" y="397.6">970</text>
<text x="659.6" y="455.7">960</text>
<text x="659.6" y="513.8">950</text>
<text x="659.6" y="571.9">940</text>
<text x="659.6" y="629.6">930</text>
</g>
</svg>
</body></html>
